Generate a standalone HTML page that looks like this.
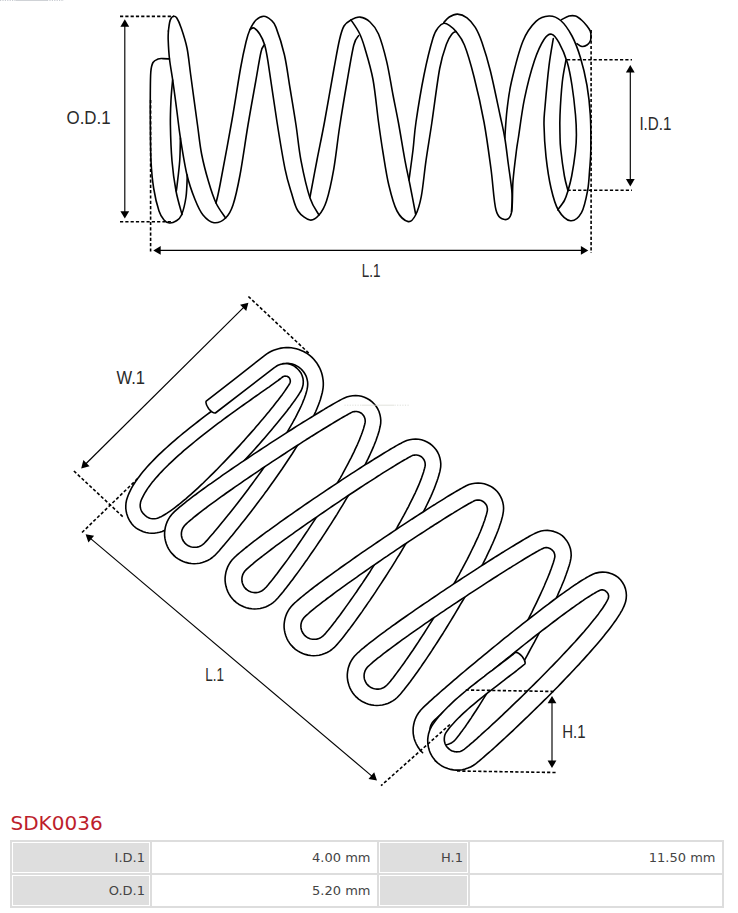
<!DOCTYPE html>
<html lang="en">
<head>
<meta charset="utf-8">
<title>SDK0036</title>
<style>
html,body{margin:0;padding:0;background:#fff;}
body{width:738px;height:913px;position:relative;overflow:hidden;font-family:"DejaVu Sans","Liberation Sans",sans-serif;}
#drawing{position:absolute;left:0;top:0;width:738px;height:800px;display:block;}
#drawing text{font-family:"Liberation Sans","DejaVu Sans",sans-serif;fill:#2a2a2a;}
h1{position:absolute;left:10.5px;top:811px;margin:0;font-size:20px;line-height:24px;font-weight:normal;color:#bd1e2c;white-space:nowrap;}
table{position:absolute;left:10px;top:840px;width:714px;border-collapse:separate;border-spacing:0;border:1px solid #ddd;table-layout:fixed;font-size:13px;color:#444;}
td{height:31px;padding:0;border:1px solid #ddd;text-align:right;vertical-align:middle;box-sizing:border-box;}
td div{height:29px;line-height:29px;margin:1px;padding:0 4px 0 0;}
td.h div{background:#dedede;}
td.v div{padding-right:5.5px;}
</style>
</head>
<body>
<svg id="drawing" width="738" height="800" viewBox="0 0 738 800">
<rect x="0" y="0" width="738" height="800" fill="#fff"/>
<g id="spring-side">
<path d="M169.50 59.00C168.42 58.93 164.92 58.60 163.00 58.60C161.08 58.60 159.67 58.35 158.00 59.00C156.33 59.65 154.20 60.33 153.00 62.50C151.80 64.67 151.25 66.58 150.80 72.00C150.35 77.42 150.38 87.00 150.30 95.00C150.22 103.00 150.18 109.00 150.30 120.00C150.42 131.00 150.43 149.58 151.00 161.00C151.57 172.42 152.37 180.17 153.70 188.50C155.03 196.83 157.28 205.75 159.00 211.00C160.72 216.25 162.25 218.00 164.00 220.00C165.75 222.00 167.50 222.83 169.50 223.00C171.50 223.17 174.00 222.33 176.00 221.00C178.00 219.67 179.83 219.00 181.50 215.00C183.17 211.00 185.03 203.67 186.00 197.00C186.97 190.33 187.08 178.67 187.30 175.00" fill="none" stroke="#000" stroke-width="1.60" stroke-linecap="round" stroke-linejoin="round" />
<path d="M172.60 80.00C172.33 83.33 171.37 92.50 171.00 100.00C170.63 107.50 170.23 114.83 170.40 125.00C170.57 135.17 171.07 150.00 172.00 161.00C172.93 172.00 174.33 182.08 176.00 191.00C177.67 199.92 181.00 210.58 182.00 214.50" fill="none" stroke="#000" stroke-width="1.60" stroke-linecap="round" stroke-linejoin="round" />
<path d="M180.40 138.00C180.28 141.83 180.27 153.00 179.70 161.00C179.13 169.00 177.57 181.00 177.00 186.00C176.43 191.00 176.42 190.17 176.30 191.00" fill="none" stroke="#000" stroke-width="1.60" stroke-linecap="round" stroke-linejoin="round" />
<path d="M168.40 31.00C168.60 29.58 169.12 24.67 169.60 22.50C170.08 20.33 170.60 19.03 171.30 18.00C172.00 16.97 172.88 16.30 173.80 16.30C174.72 16.30 175.60 16.15 176.80 18.00C178.00 19.85 179.30 22.40 181.00 27.40C182.70 32.40 185.38 40.07 187.00 48.00C188.62 55.93 188.95 62.17 190.70 75.00C192.45 87.83 195.68 111.83 197.50 125.00C199.32 138.17 199.77 144.57 201.60 154.00C203.43 163.43 206.10 173.43 208.50 181.60C210.90 189.77 213.15 196.93 216.00 203.00C218.85 209.07 224.00 215.50 225.60 218.00" fill="none" stroke="#000" stroke-width="1.60" stroke-linecap="round" stroke-linejoin="round" />
<path d="M168.40 31.00C168.37 32.50 168.02 35.33 168.20 40.00C168.38 44.67 168.70 52.00 169.50 59.00C170.30 66.00 171.75 73.17 173.00 82.00C174.25 90.83 175.77 102.67 177.00 112.00C178.23 121.33 178.73 127.50 180.40 138.00C182.07 148.50 184.57 164.75 187.00 175.00C189.43 185.25 192.33 192.83 195.00 199.50C197.67 206.17 199.83 211.13 203.00 215.00C206.17 218.87 210.23 222.20 214.00 222.70C217.77 223.20 222.43 220.95 225.60 218.00C228.77 215.05 230.60 212.17 233.00 205.00C235.40 197.83 237.50 188.33 240.00 175.00C242.50 161.67 245.40 140.50 248.00 125.00C250.60 109.50 253.43 94.17 255.60 82.00C257.77 69.83 259.52 58.25 261.00 52.00C262.48 45.75 263.92 45.75 264.50 44.50" fill="none" stroke="#000" stroke-width="1.60" stroke-linecap="round" stroke-linejoin="round" />
<path d="M216.00 203.00C216.67 200.00 217.33 198.83 220.00 185.00C222.67 171.17 228.58 139.42 232.00 120.00C235.42 100.58 238.17 81.50 240.50 68.50C242.83 55.50 244.42 48.50 246.00 42.00C247.58 35.50 248.33 33.17 250.00 29.50C251.67 25.83 253.70 22.22 256.00 20.00C258.30 17.78 261.30 16.20 263.80 16.20C266.30 16.20 268.97 18.13 271.00 20.00C273.03 21.87 273.77 21.60 276.00 27.40C278.23 33.20 282.07 44.70 284.40 54.80C286.73 64.90 288.07 76.30 290.00 88.00C291.93 99.70 294.17 112.90 296.00 125.00C297.83 137.10 298.67 148.43 301.00 160.60C303.33 172.77 307.00 188.93 310.00 198.00C313.00 207.07 317.50 212.17 319.00 215.00" fill="none" stroke="#000" stroke-width="1.60" stroke-linecap="round" stroke-linejoin="round" />
<path d="M250.00 29.50C250.67 29.25 252.38 27.25 254.00 28.00C255.62 28.75 257.95 31.25 259.70 34.00C261.45 36.75 263.12 39.90 264.50 44.50C265.88 49.10 265.92 48.68 268.00 61.60C270.08 74.52 274.17 104.13 277.00 122.00C279.83 139.87 282.58 156.97 285.00 168.80C287.42 180.63 289.33 185.97 291.50 193.00C293.67 200.03 294.92 206.50 298.00 211.00C301.08 215.50 306.50 219.33 310.00 220.00C313.50 220.67 316.25 218.17 319.00 215.00C321.75 211.83 324.03 208.70 326.50 201.00C328.97 193.30 331.62 181.13 333.80 168.80C335.98 156.47 337.40 141.47 339.60 127.00C341.80 112.53 344.63 95.67 347.00 82.00C349.37 68.33 351.87 52.73 353.80 45.00C355.73 37.27 357.80 37.17 358.60 35.60" fill="none" stroke="#000" stroke-width="1.60" stroke-linecap="round" stroke-linejoin="round" />
<path d="M310.00 197.00C311.17 190.83 314.58 172.50 317.00 160.00C319.42 147.50 321.67 137.25 324.50 122.00C327.33 106.75 331.50 82.22 334.00 68.50C336.50 54.78 337.83 46.78 339.50 39.70C341.17 32.62 342.08 29.30 344.00 26.00C345.92 22.70 348.33 21.38 351.00 19.90C353.67 18.42 356.83 16.75 360.00 17.10C363.17 17.45 366.92 19.18 370.00 22.00C373.08 24.82 375.72 27.40 378.50 34.00C381.28 40.60 384.28 51.43 386.70 61.60C389.12 71.77 391.03 84.77 393.00 95.00C394.97 105.23 396.50 112.07 398.50 123.00C400.50 133.93 403.08 150.27 405.00 160.60C406.92 170.93 408.23 176.10 410.00 185.00C411.77 193.90 414.67 209.17 415.60 214.00" fill="none" stroke="#000" stroke-width="1.60" stroke-linecap="round" stroke-linejoin="round" />
<path d="M351.00 19.90C352.38 22.08 357.00 28.32 359.30 33.00C361.60 37.68 362.52 40.25 364.80 48.00C367.08 55.75 370.72 67.17 373.00 79.50C375.28 91.83 376.83 109.83 378.50 122.00C380.17 134.17 381.28 142.00 383.00 152.50C384.72 163.00 386.47 175.25 388.80 185.00C391.13 194.75 393.75 204.90 397.00 211.00C400.25 217.10 405.20 220.93 408.30 221.60C411.40 222.27 413.43 219.20 415.60 215.00C417.77 210.80 419.57 205.47 421.30 196.40C423.03 187.33 424.25 172.83 426.00 160.60C427.75 148.37 429.52 138.35 431.80 123.00C434.08 107.65 437.23 81.70 439.70 68.50C442.17 55.30 444.55 49.55 446.60 43.80C448.65 38.05 450.43 36.05 452.00 34.00C453.57 31.95 455.33 31.92 456.00 31.50" fill="none" stroke="#000" stroke-width="1.60" stroke-linecap="round" stroke-linejoin="round" />
<path d="M409.00 180.00C409.67 175.00 411.83 159.67 413.00 150.00C414.17 140.33 414.17 134.50 416.00 122.00C417.83 109.50 421.17 89.00 424.00 75.00C426.83 61.00 430.60 45.93 433.00 38.00C435.40 30.07 436.60 29.85 438.40 27.40C440.20 24.95 441.98 23.65 443.80 23.30C445.62 22.95 447.27 23.93 449.30 25.30C451.33 26.67 453.48 28.22 456.00 31.50C458.52 34.78 461.40 37.47 464.40 45.00C467.40 52.53 470.73 63.87 474.00 76.70C477.27 89.53 481.17 106.62 484.00 122.00C486.83 137.38 489.00 154.33 491.00 169.00C493.00 183.67 493.73 201.58 496.00 210.00C498.27 218.42 502.02 219.05 504.60 219.50C507.18 219.95 510.10 219.12 511.50 212.70C512.90 206.28 512.17 191.45 513.00 181.00C513.83 170.55 515.58 157.33 516.50 150.00C517.42 142.67 517.17 145.57 518.50 137.00C519.83 128.43 521.85 111.30 524.50 98.60C527.15 85.90 531.15 70.65 534.40 60.80C537.65 50.95 541.13 43.93 544.00 39.50C546.87 35.07 549.10 33.67 551.60 34.20C554.10 34.73 556.38 37.98 559.00 42.70C561.62 47.42 565.13 55.37 567.30 62.50C569.47 69.63 570.63 76.75 572.00 85.50C573.37 94.25 574.77 106.75 575.50 115.00C576.23 123.25 576.42 128.88 576.40 135.00C576.38 141.12 576.18 144.87 575.40 151.70C574.62 158.53 572.93 169.50 571.70 176.00C570.47 182.50 569.22 186.62 568.00 190.70C566.78 194.78 566.10 197.32 564.40 200.50C562.70 203.68 558.90 208.25 557.80 209.80" fill="none" stroke="#000" stroke-width="1.60" stroke-linecap="round" stroke-linejoin="round" />
<path d="M443.80 22.50C444.72 21.58 447.02 18.40 449.30 17.00C451.58 15.60 454.55 13.97 457.50 14.10C460.45 14.23 464.03 15.58 467.00 17.80C469.97 20.02 472.80 23.28 475.30 27.40C477.80 31.52 479.48 35.23 482.00 42.50C484.52 49.77 487.40 58.92 490.40 71.00C493.40 83.08 497.60 103.83 500.00 115.00C502.40 126.17 503.42 129.83 504.80 138.00C506.18 146.17 507.10 154.83 508.30 164.00C509.50 173.17 511.47 185.08 512.00 193.00C512.53 200.92 511.58 208.42 511.50 211.50" fill="none" stroke="#000" stroke-width="1.60" stroke-linecap="round" stroke-linejoin="round" />
<path d="M504.80 138.00C505.17 133.33 505.90 119.33 507.00 110.00C508.10 100.67 508.73 93.50 511.40 82.00C514.07 70.50 518.90 51.10 523.00 41.00C527.10 30.90 531.67 25.57 536.00 21.40C540.33 17.23 544.88 16.15 549.00 16.00C553.12 15.85 556.87 17.17 560.70 20.50C564.53 23.83 568.72 29.83 572.00 36.00C575.28 42.17 577.90 49.25 580.40 57.50C582.90 65.75 585.35 75.92 587.00 85.50C588.65 95.08 589.67 104.25 590.30 115.00C590.93 125.75 590.92 140.83 590.80 150.00C590.68 159.17 590.13 163.22 589.60 170.00C589.07 176.78 588.95 183.58 587.60 190.70C586.25 197.82 584.35 207.70 581.50 212.70C578.65 217.70 574.37 221.15 570.50 220.70C566.63 220.25 561.55 215.45 558.30 210.00C555.05 204.55 553.05 196.90 551.00 188.00C548.95 179.10 547.17 167.10 546.00 156.60C544.83 146.10 544.17 133.27 544.00 125.00C543.83 116.73 544.17 116.87 545.00 107.00C545.83 97.13 547.62 77.20 549.00 65.80C550.38 54.40 552.58 43.13 553.30 38.60" fill="none" stroke="#000" stroke-width="1.60" stroke-linecap="round" stroke-linejoin="round" />
<path d="M566.00 60.00C565.38 63.67 563.30 72.83 562.30 82.00C561.30 91.17 560.38 106.17 560.00 115.00C559.62 123.83 559.88 129.33 560.00 135.00C560.12 140.67 559.97 142.17 560.70 149.00C561.43 155.83 563.18 169.05 564.40 176.00C565.62 182.95 567.40 188.25 568.00 190.70" fill="none" stroke="#000" stroke-width="1.60" stroke-linecap="round" stroke-linejoin="round" />
<path d="M561.50 19.70C562.75 19.10 566.67 16.70 569.00 16.10C571.33 15.50 573.33 15.37 575.50 16.10C577.67 16.83 580.08 18.85 582.00 20.50C583.92 22.15 585.62 24.22 587.00 26.00C588.38 27.78 589.63 29.53 590.30 31.20C590.97 32.87 591.00 34.37 591.00 36.00C591.00 37.63 590.97 39.50 590.30 41.00C589.63 42.50 588.38 44.08 587.00 45.00C585.62 45.92 583.67 46.73 582.00 46.50C580.33 46.27 577.83 44.08 577.00 43.60" fill="none" stroke="#000" stroke-width="1.60" stroke-linecap="round" stroke-linejoin="round" />
<line x1="120.00" y1="16.40" x2="174.00" y2="16.40" stroke="#000" stroke-width="1.60" stroke-dasharray="3.2 2.1"/>
<line x1="120.00" y1="221.70" x2="171.00" y2="221.70" stroke="#000" stroke-width="1.60" stroke-dasharray="3.2 2.1"/>
<line x1="150.60" y1="100.00" x2="150.60" y2="253.00" stroke="#000" stroke-width="1.60" stroke-dasharray="3.2 2.1"/>
<line x1="591.10" y1="30.00" x2="591.10" y2="253.00" stroke="#000" stroke-width="1.60" stroke-dasharray="3.2 2.1"/>
<line x1="567.00" y1="59.80" x2="632.00" y2="59.80" stroke="#000" stroke-width="1.60" stroke-dasharray="3.2 2.1"/>
<line x1="567.50" y1="190.20" x2="632.00" y2="190.20" stroke="#000" stroke-width="1.60" stroke-dasharray="3.2 2.1"/>
<polygon points="124.80,19.30 120.40,26.70 129.20,26.70" fill="#000"/>
<polygon points="124.80,218.60 120.40,211.20 129.20,211.20" fill="#000"/>
<line x1="124.80" y1="25.22" x2="124.80" y2="212.68" stroke="#000" stroke-width="1.15"/>
<polygon points="153.30,250.40 160.70,254.80 160.70,246.00" fill="#000"/>
<polygon points="588.30,250.40 580.90,254.80 580.90,246.00" fill="#000"/>
<line x1="159.22" y1="250.40" x2="582.38" y2="250.40" stroke="#000" stroke-width="1.15"/>
<polygon points="630.30,65.00 625.90,72.40 634.70,72.40" fill="#000"/>
<polygon points="630.30,186.50 625.90,179.10 634.70,179.10" fill="#000"/>
<line x1="630.30" y1="70.92" x2="630.30" y2="180.58" stroke="#000" stroke-width="1.15"/>
<text x="66.50" y="124.00" font-size="18.00" textLength="44.1" lengthAdjust="spacingAndGlyphs">O.D.1</text>
<text x="639.40" y="130.00" font-size="18.00" textLength="32.0" lengthAdjust="spacingAndGlyphs">I.D.1</text>
<text x="361.70" y="276.70" font-size="18.00" textLength="18.7" lengthAdjust="spacingAndGlyphs">L.1</text>
</g>
<g id="spring-iso">
<path d="M162.2 531.4L159.6 532.2L156.9 532.8L154.2 533.2L151.4 533.2L148.7 533.0L145.9 532.5L143.3 531.7L140.7 530.6L138.2 529.3L135.9 527.8L133.7 526.0L131.9 523.9L130.2 521.6L128.8 519.2L127.7 516.6L126.8 514.0L126.2 511.3L125.8 508.5L125.8 505.7L126.0 503.0L126.5 500.3L127.3 497.7L128.2 495.3L129.2 492.9L130.3 490.6L131.5 488.2L132.8 485.8L134.3 483.5L135.9 481.1L137.5 478.7L139.3 476.4L141.1 474.0L143.1 471.6L145.1 469.2L147.2 466.8L149.4 464.4L151.7 462.0L154.0 459.6L156.4 457.1L158.9 454.7L161.4 452.3L164.0 449.9L166.7 447.5L169.3 445.1L172.1 442.7L174.8 440.3L177.6 437.9L180.5 435.5L183.3 433.1L186.2 430.8L189.2 428.4L192.1 426.1L195.0 423.8L198.0 421.5L201.0 419.2L203.9 416.9L206.9 414.7L209.8 412.5L212.8 410.3L215.7 408.1L218.6 406.0L221.5 403.9L224.4 401.8L227.2 399.8L230.0 397.8L232.8 395.8L235.5 393.9L238.1 392.0L240.8 390.1L243.3 388.3L245.8 386.6L248.3 384.9L250.7 383.2L253.0 381.6L255.2 380.0L257.4 378.5L259.4 377.1L261.4 375.7L263.3 374.4L265.1 373.1L266.8 371.9L268.4 370.7L269.9 369.7L271.2 368.7L272.5 367.7L273.6 366.9L276.3 365.2L279.2 364.0L282.3 363.4L285.5 363.3L288.6 363.7L291.5 364.7L294.3 366.1L296.7 368.0L298.9 370.2L300.8 372.7L302.1 375.5L303.0 378.5L303.3 381.6L303.1 384.8L302.3 387.9L301.1 390.8L300.2 392.2L299.3 393.7L298.3 395.3L297.2 396.9L296.0 398.6L294.7 400.5L293.3 402.4L291.9 404.3L290.4 406.4L288.7 408.5L287.1 410.7L285.3 412.9L283.5 415.2L281.6 417.6L279.6 420.0L277.6 422.5L275.5 425.0L273.4 427.6L271.2 430.2L269.0 432.8L266.7 435.5L264.4 438.2L262.0 440.9L259.6 443.7L257.2 446.4L254.7 449.2L252.2 452.0L249.6 454.8L247.1 457.6L244.5 460.4L241.9 463.3L239.2 466.1L236.6 468.9L234.0 471.6L231.3 474.4L228.6 477.1L226.0 479.9L223.3 482.6L220.7 485.2L218.0 487.8L215.4 490.4L212.7 493.0L210.1 495.5L207.5 497.9L204.9 500.3L202.4 502.7L199.8 504.9L197.3 507.2L194.8 509.3L192.4 511.4L190.0 513.4L187.6 515.3L185.3 517.2L183.0 518.9L180.7 520.6L178.5 522.2L176.3 523.7L174.2 525.1L172.1 526.4L170.1 527.6L168.1 528.7L166.1 529.7L164.2 530.6L162.2 531.4ZM157.4 518.2L156.2 518.5L154.9 518.7L153.6 518.8L152.3 518.7L151.0 518.5L149.8 518.2L148.6 517.7L147.4 517.1L146.4 516.5L145.4 515.7L144.5 514.8L143.6 513.9L142.8 513.0L142.1 512.0L141.4 510.8L141.0 509.7L140.6 508.4L140.3 507.2L140.2 505.9L140.2 504.6L140.4 503.3L140.6 502.0L141.2 500.3L141.9 498.6L142.8 496.8L143.8 494.9L144.9 492.9L146.1 491.0L147.4 488.9L148.8 486.9L150.4 484.8L152.0 482.6L153.8 480.5L155.6 478.3L157.6 476.1L159.6 473.8L161.7 471.6L163.9 469.3L166.2 467.0L168.5 464.7L171.0 462.4L173.4 460.1L176.0 457.7L178.5 455.4L181.2 453.1L183.8 450.7L186.6 448.4L189.3 446.1L192.1 443.8L194.9 441.5L197.8 439.2L200.6 436.9L203.5 434.6L206.4 432.3L209.3 430.1L212.2 427.8L215.1 425.6L218.0 423.4L220.9 421.3L223.8 419.1L226.7 417.0L229.6 414.9L232.4 412.9L235.2 410.9L237.9 408.9L240.7 406.9L243.4 405.0L246.0 403.1L248.6 401.3L251.2 399.5L253.7 397.7L256.1 396.0L258.5 394.4L260.8 392.7L263.0 391.2L265.2 389.7L267.3 388.2L269.3 386.8L271.2 385.4L273.0 384.1L274.7 382.9L276.4 381.7L277.9 380.6L279.3 379.5L280.7 378.5L281.9 377.5L282.6 377.0L283.4 376.5L284.2 376.3L285.1 376.1L286.1 376.2L287.0 376.3L287.9 376.7L288.7 377.2L289.4 378.0L289.8 378.8L290.1 379.7L290.3 380.6L290.3 381.5L290.1 382.4L289.8 383.3L289.4 384.0L288.7 385.2L287.9 386.4L287.0 387.8L286.0 389.3L284.9 390.9L283.7 392.6L282.4 394.4L281.0 396.2L279.5 398.2L278.0 400.2L276.3 402.3L274.6 404.5L272.9 406.7L271.0 409.0L269.1 411.4L267.1 413.8L265.1 416.3L263.0 418.8L260.8 421.3L258.6 423.9L256.3 426.6L254.1 429.2L251.7 431.9L249.3 434.6L246.9 437.3L244.5 440.1L242.0 442.8L239.5 445.6L236.9 448.4L234.4 451.1L231.8 453.9L229.2 456.6L226.6 459.4L224.0 462.1L221.4 464.8L218.8 467.5L216.2 470.2L213.5 472.8L210.9 475.4L208.3 478.0L205.7 480.5L203.2 483.0L200.6 485.4L198.1 487.8L195.6 490.1L193.1 492.4L190.6 494.6L188.2 496.7L185.8 498.8L183.5 500.7L181.2 502.6L178.9 504.5L176.7 506.2L174.6 507.8L172.5 509.4L170.5 510.8L168.5 512.2L166.7 513.4L164.9 514.5L163.2 515.5L161.6 516.4L160.1 517.1L158.7 517.7L157.4 518.2Z" fill="#fff" fill-rule="evenodd" stroke="#000" stroke-width="1.60" stroke-linejoin="round"/>
<path d="M206.2 401.2L235.5 378.3L264.8 355.4L266.8 353.9L269.0 352.5L271.3 351.3L273.6 350.2L276.0 349.4L278.5 348.7L281.0 348.1L283.6 347.8L286.1 347.6L288.7 347.6L291.3 347.8L293.8 348.2L296.3 348.8L298.8 349.5L301.2 350.4L303.6 351.5L305.8 352.7L308.0 354.2L310.0 355.7L312.0 357.4L313.8 359.3L315.4 361.3L317.0 363.3L318.3 365.5L319.6 367.8L320.6 370.1L321.5 372.5L322.2 375.0L322.7 377.5L323.1 380.1L323.3 382.6L323.3 385.2L323.1 387.8L322.7 390.3L322.3 392.5L321.7 394.8L321.1 397.1L320.4 399.4L319.6 401.8L318.7 404.2L317.7 406.7L316.7 409.2L315.6 411.8L314.4 414.4L313.2 417.0L311.9 419.7L310.5 422.4L309.0 425.2L307.5 428.0L306.0 430.8L304.4 433.7L302.7 436.5L301.0 439.4L299.3 442.4L297.5 445.3L295.6 448.3L293.8 451.2L291.9 454.2L289.9 457.2L287.9 460.2L285.9 463.3L283.9 466.3L281.9 469.3L279.8 472.3L277.7 475.3L275.6 478.3L273.5 481.3L271.3 484.3L269.2 487.3L267.1 490.2L264.9 493.1L262.8 496.1L260.6 498.9L258.5 501.8L256.4 504.6L254.2 507.4L252.1 510.2L250.0 512.9L248.0 515.5L245.9 518.2L243.9 520.8L241.8 523.3L239.9 525.8L237.9 528.2L236.0 530.6L234.1 532.9L232.3 535.2L230.5 537.3L228.7 539.5L227.0 541.5L225.3 543.5L223.7 545.4L222.1 547.2L220.6 549.0L219.2 550.7L217.8 552.2L216.4 553.7L214.5 555.7L212.3 557.5L210.1 559.1L207.6 560.5L205.1 561.6L202.4 562.5L199.7 563.2L196.9 563.5L194.1 563.7L191.3 563.5L188.6 563.1L185.8 562.4L183.2 561.5L180.6 560.3L178.2 558.9L175.9 557.3L173.8 555.4L185.3 543.5L186.3 544.3L187.3 545.1L188.3 545.7L189.5 546.3L190.6 546.7L191.8 547.0L193.1 547.2L194.3 547.3L195.6 547.3L196.8 547.2L198.1 546.9L199.3 546.5L200.5 546.0L201.6 545.4L202.6 544.7L203.6 543.9L204.5 543.0L205.8 541.6L207.2 540.1L208.6 538.5L210.0 536.8L211.6 535.0L213.2 533.2L214.8 531.2L216.5 529.2L218.2 527.2L220.0 525.0L221.8 522.8L223.7 520.6L225.5 518.2L227.5 515.8L229.4 513.4L231.4 510.9L233.4 508.4L235.5 505.8L237.5 503.2L239.6 500.5L241.7 497.8L243.8 495.0L245.9 492.3L248.0 489.5L250.1 486.6L252.2 483.8L254.3 480.9L256.4 478.0L258.5 475.1L260.6 472.2L262.7 469.2L264.8 466.3L266.8 463.3L268.9 460.4L270.9 457.5L272.9 454.5L274.8 451.6L276.8 448.6L278.7 445.7L280.5 442.8L282.4 439.9L284.1 437.1L285.9 434.2L287.6 431.4L289.2 428.6L290.8 425.9L292.4 423.2L293.8 420.5L295.3 417.9L296.6 415.3L297.9 412.7L299.1 410.3L300.3 407.8L301.4 405.5L302.4 403.2L303.3 400.9L304.2 398.7L304.9 396.7L305.6 394.7L306.2 392.7L306.7 390.9L307.1 389.2L307.4 387.6L307.6 386.1L307.7 384.7L307.7 383.2L307.6 381.8L307.3 380.3L307.0 378.9L306.6 377.5L306.1 376.1L305.5 374.8L304.7 373.5L303.9 372.3L303.1 371.2L302.1 370.1L301.1 369.0L300.0 368.1L298.8 367.2L297.6 366.4L296.3 365.7L295.0 365.1L293.7 364.6L292.3 364.1L290.9 363.8L289.4 363.6L288.0 363.4L286.5 363.4L285.1 363.5L283.6 363.6L282.2 363.9L280.8 364.3L279.4 364.8L278.0 365.3L276.7 366.0L275.5 366.8L274.3 367.6L244.8 390.3L215.4 413.0Z" fill="#fff" stroke="none"/>
<path d="M173.8 555.4L175.9 557.3L178.2 558.9L180.6 560.3L183.2 561.5L185.8 562.4L188.6 563.1L191.3 563.5L194.1 563.7L196.9 563.5L199.7 563.2L202.4 562.5L205.1 561.6L207.6 560.5L210.1 559.1L212.3 557.5L214.5 555.7L216.4 553.7L217.8 552.2L219.2 550.7L220.6 549.0L222.1 547.2L223.7 545.4L225.3 543.5L227.0 541.5L228.7 539.5L230.5 537.3L232.3 535.2L234.1 532.9L236.0 530.6L237.9 528.2L239.9 525.8L241.8 523.3L243.9 520.8L245.9 518.2L248.0 515.5L250.0 512.9L252.1 510.2L254.2 507.4L256.4 504.6L258.5 501.8L260.6 498.9L262.8 496.1L264.9 493.1L267.1 490.2L269.2 487.3L271.3 484.3L273.5 481.3L275.6 478.3L277.7 475.3L279.8 472.3L281.9 469.3L283.9 466.3L285.9 463.3L287.9 460.2L289.9 457.2L291.9 454.2L293.8 451.2L295.6 448.3L297.5 445.3L299.3 442.4L301.0 439.4L302.7 436.5L304.4 433.7L306.0 430.8L307.5 428.0L309.0 425.2L310.5 422.4L311.9 419.7L313.2 417.0L314.4 414.4L315.6 411.8L316.7 409.2L317.7 406.7L318.7 404.2L319.6 401.8L320.4 399.4L321.1 397.1L321.7 394.8L322.3 392.5L322.7 390.3L323.1 387.8L323.3 385.2L323.3 382.6L323.1 380.1L322.7 377.5L322.2 375.0L321.5 372.5L320.6 370.1L319.6 367.8L318.3 365.5L317.0 363.3L315.4 361.3L313.8 359.3L312.0 357.4L310.0 355.7L308.0 354.2L305.8 352.7L303.6 351.5L301.2 350.4L298.8 349.5L296.3 348.8L293.8 348.2L291.3 347.8L288.7 347.6L286.1 347.6L283.6 347.8L281.0 348.1L278.5 348.7L276.0 349.4L273.6 350.2L271.3 351.3L269.0 352.5L266.8 353.9L264.8 355.4L235.5 378.3L206.2 401.2Q205.1 403.6 208.7 408.7Q212.8 413.5 215.4 413.0L244.8 390.3L274.3 367.6L275.5 366.8L276.7 366.0L278.0 365.3L279.4 364.8L280.8 364.3L282.2 363.9L283.6 363.6L285.1 363.5L286.5 363.4L288.0 363.4L289.4 363.6L290.9 363.8L292.3 364.1L293.7 364.6L295.0 365.1L296.3 365.7L297.6 366.4L298.8 367.2L300.0 368.1L301.1 369.0L302.1 370.1L303.1 371.2L303.9 372.3L304.7 373.5L305.5 374.8L306.1 376.1L306.6 377.5L307.0 378.9L307.3 380.3L307.6 381.8L307.7 383.2L307.7 384.7L307.6 386.1L307.4 387.6L307.1 389.2L306.7 390.9L306.2 392.7L305.6 394.7L304.9 396.7L304.2 398.7L303.3 400.9L302.4 403.2L301.4 405.5L300.3 407.8L299.1 410.3L297.9 412.7L296.6 415.3L295.3 417.9L293.8 420.5L292.4 423.2L290.8 425.9L289.2 428.6L287.6 431.4L285.9 434.2L284.1 437.1L282.4 439.9L280.5 442.8L278.7 445.7L276.8 448.6L274.8 451.6L272.9 454.5L270.9 457.5L268.9 460.4L266.8 463.3L264.8 466.3L262.7 469.2L260.6 472.2L258.5 475.1L256.4 478.0L254.3 480.9L252.2 483.8L250.1 486.6L248.0 489.5L245.9 492.3L243.8 495.0L241.7 497.8L239.6 500.5L237.5 503.2L235.5 505.8L233.4 508.4L231.4 510.9L229.4 513.4L227.5 515.8L225.5 518.2L223.7 520.6L221.8 522.8L220.0 525.0L218.2 527.2L216.5 529.2L214.8 531.2L213.2 533.2L211.6 535.0L210.0 536.8L208.6 538.5L207.2 540.1L205.8 541.6L204.5 543.0L203.6 543.9L202.6 544.7L201.6 545.4L200.5 546.0L199.3 546.5L198.1 546.9L196.8 547.2L195.6 547.3L194.3 547.3L193.1 547.2L191.8 547.0L190.6 546.7L189.5 546.3L188.3 545.7L187.3 545.1L186.3 544.3L185.3 543.5Z" fill="#fff" stroke="none"/>
<path d="M173.8 555.4L175.9 557.3L178.2 558.9L180.6 560.3L183.2 561.5L185.8 562.4L188.6 563.1L191.3 563.5L194.1 563.7L196.9 563.5L199.7 563.2L202.4 562.5L205.1 561.6L207.6 560.5L210.1 559.1L212.3 557.5L214.5 555.7L216.4 553.7L217.8 552.2L219.2 550.7L220.6 549.0L222.1 547.2L223.7 545.4L225.3 543.5L227.0 541.5L228.7 539.5L230.5 537.3L232.3 535.2L234.1 532.9L236.0 530.6L237.9 528.2L239.9 525.8L241.8 523.3L243.9 520.8L245.9 518.2L248.0 515.5L250.0 512.9L252.1 510.2L254.2 507.4L256.4 504.6L258.5 501.8L260.6 498.9L262.8 496.1L264.9 493.1L267.1 490.2L269.2 487.3L271.3 484.3L273.5 481.3L275.6 478.3L277.7 475.3L279.8 472.3L281.9 469.3L283.9 466.3L285.9 463.3L287.9 460.2L289.9 457.2L291.9 454.2L293.8 451.2L295.6 448.3L297.5 445.3L299.3 442.4L301.0 439.4L302.7 436.5L304.4 433.7L306.0 430.8L307.5 428.0L309.0 425.2L310.5 422.4L311.9 419.7L313.2 417.0L314.4 414.4L315.6 411.8L316.7 409.2L317.7 406.7L318.7 404.2L319.6 401.8L320.4 399.4L321.1 397.1L321.7 394.8L322.3 392.5L322.7 390.3L323.1 387.8L323.3 385.2L323.3 382.6L323.1 380.1L322.7 377.5L322.2 375.0L321.5 372.5L320.6 370.1L319.6 367.8L318.3 365.5L317.0 363.3L315.4 361.3L313.8 359.3L312.0 357.4L310.0 355.7L308.0 354.2L305.8 352.7L303.6 351.5L301.2 350.4L298.8 349.5L296.3 348.8L293.8 348.2L291.3 347.8L288.7 347.6L286.1 347.6L283.6 347.8L281.0 348.1L278.5 348.7L276.0 349.4L273.6 350.2L271.3 351.3L269.0 352.5L266.8 353.9L264.8 355.4L235.5 378.3L206.2 401.2Q205.1 403.6 208.7 408.7Q212.8 413.5 215.4 413.0L244.8 390.3L274.3 367.6L275.5 366.8L276.7 366.0L278.0 365.3L279.4 364.8L280.8 364.3L282.2 363.9L283.6 363.6L285.1 363.5L286.5 363.4L288.0 363.4L289.4 363.6L290.9 363.8L292.3 364.1L293.7 364.6L295.0 365.1L296.3 365.7L297.6 366.4L298.8 367.2L300.0 368.1L301.1 369.0L302.1 370.1L303.1 371.2L303.9 372.3L304.7 373.5L305.5 374.8L306.1 376.1L306.6 377.5L307.0 378.9L307.3 380.3L307.6 381.8L307.7 383.2L307.7 384.7L307.6 386.1L307.4 387.6L307.1 389.2L306.7 390.9L306.2 392.7L305.6 394.7L304.9 396.7L304.2 398.7L303.3 400.9L302.4 403.2L301.4 405.5L300.3 407.8L299.1 410.3L297.9 412.7L296.6 415.3L295.3 417.9L293.8 420.5L292.4 423.2L290.8 425.9L289.2 428.6L287.6 431.4L285.9 434.2L284.1 437.1L282.4 439.9L280.5 442.8L278.7 445.7L276.8 448.6L274.8 451.6L272.9 454.5L270.9 457.5L268.9 460.4L266.8 463.3L264.8 466.3L262.7 469.2L260.6 472.2L258.5 475.1L256.4 478.0L254.3 480.9L252.2 483.8L250.1 486.6L248.0 489.5L245.9 492.3L243.8 495.0L241.7 497.8L239.6 500.5L237.5 503.2L235.5 505.8L233.4 508.4L231.4 510.9L229.4 513.4L227.5 515.8L225.5 518.2L223.7 520.6L221.8 522.8L220.0 525.0L218.2 527.2L216.5 529.2L214.8 531.2L213.2 533.2L211.6 535.0L210.0 536.8L208.6 538.5L207.2 540.1L205.8 541.6L204.5 543.0L203.6 543.9L202.6 544.7L201.6 545.4L200.5 546.0L199.3 546.5L198.1 546.9L196.8 547.2L195.6 547.3L194.3 547.3L193.1 547.2L191.8 547.0L190.6 546.7L189.5 546.3L188.3 545.7L187.3 545.1L186.3 544.3L185.3 543.5" fill="none" stroke="#000" stroke-width="1.60" stroke-linejoin="round" stroke-linecap="round"/>
<path d="M173.8 555.4L171.9 553.4L170.1 551.2L168.6 548.8L167.3 546.3L166.3 543.7L165.5 541.0L164.9 538.2L164.6 535.4L164.6 532.6L164.9 529.8L165.4 527.0L166.2 524.3L167.2 521.6L168.5 519.1L170.0 516.7L171.7 514.5L173.7 512.4L175.0 511.2L176.4 509.9L177.9 508.6L179.5 507.2L181.2 505.8L183.0 504.3L184.9 502.8L186.9 501.2L189.0 499.6L191.2 497.9L193.4 496.2L195.8 494.5L198.2 492.7L200.6 490.9L203.2 489.0L205.8 487.1L208.4 485.2L211.2 483.3L214.0 481.3L216.8 479.3L219.7 477.3L222.6 475.2L225.6 473.2L228.6 471.1L231.6 469.0L234.7 466.9L237.8 464.8L240.9 462.7L244.1 460.6L247.2 458.5L250.4 456.3L253.6 454.2L256.8 452.1L260.0 450.0L263.2 447.9L266.4 445.8L269.6 443.7L272.7 441.7L275.9 439.6L279.0 437.6L282.1 435.6L285.2 433.6L288.3 431.6L291.3 429.7L294.3 427.8L297.2 425.9L300.1 424.1L303.0 422.3L305.8 420.6L308.6 418.9L311.3 417.2L313.9 415.6L316.5 414.0L319.0 412.5L321.4 411.0L323.8 409.6L326.0 408.2L328.2 406.9L330.3 405.7L332.4 404.5L334.3 403.4L336.1 402.4L337.9 401.4L339.5 400.5L341.1 399.6L342.5 398.9L343.9 398.2L346.7 397.0L349.6 396.2L352.6 395.7L355.6 395.5L358.6 395.7L361.5 396.3L364.4 397.2L367.1 398.5L369.7 400.0L372.1 401.9L374.2 404.0L376.1 406.3L377.7 408.8L379.0 411.5L379.9 414.4L380.5 417.3L380.8 420.3L380.7 423.3L380.2 426.3L379.7 428.4L379.2 430.7L378.5 433.0L377.8 435.3L376.9 437.7L376.1 440.2L375.1 442.7L374.1 445.3L373.0 447.9L371.8 450.6L370.6 453.3L369.3 456.1L368.0 458.9L366.6 461.7L365.2 464.6L363.7 467.6L362.2 470.6L360.6 473.6L359.0 476.6L357.3 479.6L355.6 482.7L353.9 485.8L352.1 489.0L350.3 492.1L348.5 495.3L346.6 498.4L344.7 501.6L342.8 504.8L340.9 507.9L338.9 511.1L337.0 514.3L335.0 517.5L333.0 520.6L331.0 523.8L329.0 526.9L327.0 530.0L325.0 533.1L323.0 536.1L321.0 539.2L318.9 542.2L317.0 545.1L315.0 548.1L313.0 551.0L311.0 553.8L309.1 556.6L307.2 559.4L305.2 562.1L303.4 564.8L301.5 567.4L299.7 569.9L297.9 572.4L296.1 574.8L294.4 577.1L292.7 579.4L291.0 581.6L289.4 583.7L287.8 585.8L286.3 587.7L284.8 589.6L283.4 591.4L282.0 593.1L280.6 594.7L279.3 596.3L278.1 597.7L276.9 599.0L275.0 601.0L272.8 602.8L270.6 604.4L268.1 605.8L265.6 606.9L262.9 607.8L260.2 608.5L257.4 608.8L254.6 609.0L251.8 608.8L249.1 608.4L246.3 607.7L243.7 606.8L241.1 605.6L238.7 604.2L236.4 602.6L234.3 600.7L245.8 588.8L246.8 589.6L247.8 590.4L248.8 591.0L250.0 591.6L251.1 592.0L252.3 592.3L253.6 592.5L254.8 592.6L256.1 592.6L257.3 592.5L258.6 592.2L259.8 591.8L261.0 591.3L262.1 590.7L263.1 590.0L264.1 589.2L265.0 588.3L266.1 587.2L267.2 585.9L268.4 584.5L269.6 583.0L270.9 581.4L272.3 579.7L273.7 577.9L275.2 576.0L276.8 574.0L278.3 572.0L279.9 569.8L281.6 567.6L283.3 565.3L285.0 563.0L286.8 560.6L288.6 558.1L290.4 555.5L292.3 552.9L294.2 550.3L296.1 547.6L298.0 544.8L299.9 542.0L301.9 539.1L303.8 536.3L305.8 533.3L307.8 530.4L309.7 527.4L311.7 524.4L313.7 521.4L315.7 518.3L317.7 515.2L319.6 512.1L321.6 509.0L323.6 505.9L325.5 502.8L327.4 499.7L329.3 496.6L331.2 493.5L333.0 490.4L334.9 487.3L336.7 484.2L338.4 481.1L340.2 478.1L341.9 475.1L343.5 472.1L345.1 469.1L346.7 466.2L348.2 463.3L349.7 460.4L351.2 457.6L352.5 454.8L353.9 452.1L355.1 449.4L356.3 446.8L357.5 444.3L358.6 441.8L359.6 439.4L360.5 437.0L361.4 434.7L362.2 432.5L362.9 430.4L363.6 428.4L364.1 426.5L364.6 424.7L365.0 423.0L365.2 421.9L365.2 420.7L365.1 419.6L364.9 418.5L364.5 417.4L364.0 416.3L363.4 415.4L362.7 414.5L361.9 413.7L360.9 413.0L359.9 412.4L358.9 412.0L357.8 411.7L356.7 411.5L355.5 411.5L354.4 411.6L353.3 411.8L352.2 412.1L351.2 412.6L350.1 413.2L348.8 413.9L347.4 414.7L345.8 415.6L344.2 416.5L342.4 417.5L340.5 418.6L338.6 419.8L336.5 421.0L334.4 422.3L332.2 423.6L329.9 425.0L327.5 426.5L325.0 428.0L322.5 429.5L319.9 431.1L317.2 432.8L314.5 434.5L311.7 436.2L308.9 438.0L306.0 439.8L303.1 441.7L300.2 443.6L297.2 445.5L294.1 447.5L291.1 449.4L288.0 451.4L284.9 453.5L281.8 455.5L278.6 457.6L275.5 459.6L272.3 461.7L269.1 463.8L266.0 465.9L262.8 468.0L259.7 470.2L256.5 472.3L253.4 474.4L250.3 476.5L247.2 478.6L244.1 480.7L241.1 482.8L238.1 484.9L235.1 486.9L232.2 489.0L229.3 491.0L226.4 493.0L223.7 495.0L220.9 496.9L218.2 498.9L215.6 500.8L213.1 502.6L210.6 504.4L208.2 506.2L205.9 508.0L203.6 509.7L201.4 511.3L199.4 512.9L197.4 514.5L195.5 516.0L193.7 517.4L192.1 518.8L190.5 520.1L189.0 521.4L187.7 522.5L186.5 523.6L185.5 524.6L184.6 525.5L183.9 526.5L183.2 527.5L182.6 528.6L182.1 529.8L181.8 530.9L181.5 532.2L181.4 533.4L181.4 534.6L181.5 535.9L181.7 537.1L182.1 538.3L182.5 539.4L183.1 540.5L183.7 541.6L184.5 542.6L185.3 543.5Z" fill="#fff" stroke="none"/>
<path d="M173.8 555.4L171.9 553.4L170.1 551.2L168.6 548.8L167.3 546.3L166.3 543.7L165.5 541.0L164.9 538.2L164.6 535.4L164.6 532.6L164.9 529.8L165.4 527.0L166.2 524.3L167.2 521.6L168.5 519.1L170.0 516.7L171.7 514.5L173.7 512.4L175.0 511.2L176.4 509.9L177.9 508.6L179.5 507.2L181.2 505.8L183.0 504.3L184.9 502.8L186.9 501.2L189.0 499.6L191.2 497.9L193.4 496.2L195.8 494.5L198.2 492.7L200.6 490.9L203.2 489.0L205.8 487.1L208.4 485.2L211.2 483.3L214.0 481.3L216.8 479.3L219.7 477.3L222.6 475.2L225.6 473.2L228.6 471.1L231.6 469.0L234.7 466.9L237.8 464.8L240.9 462.7L244.1 460.6L247.2 458.5L250.4 456.3L253.6 454.2L256.8 452.1L260.0 450.0L263.2 447.9L266.4 445.8L269.6 443.7L272.7 441.7L275.9 439.6L279.0 437.6L282.1 435.6L285.2 433.6L288.3 431.6L291.3 429.7L294.3 427.8L297.2 425.9L300.1 424.1L303.0 422.3L305.8 420.6L308.6 418.9L311.3 417.2L313.9 415.6L316.5 414.0L319.0 412.5L321.4 411.0L323.8 409.6L326.0 408.2L328.2 406.9L330.3 405.7L332.4 404.5L334.3 403.4L336.1 402.4L337.9 401.4L339.5 400.5L341.1 399.6L342.5 398.9L343.9 398.2L346.7 397.0L349.6 396.2L352.6 395.7L355.6 395.5L358.6 395.7L361.5 396.3L364.4 397.2L367.1 398.5L369.7 400.0L372.1 401.9L374.2 404.0L376.1 406.3L377.7 408.8L379.0 411.5L379.9 414.4L380.5 417.3L380.8 420.3L380.7 423.3L380.2 426.3L379.7 428.4L379.2 430.7L378.5 433.0L377.8 435.3L376.9 437.7L376.1 440.2L375.1 442.7L374.1 445.3L373.0 447.9L371.8 450.6L370.6 453.3L369.3 456.1L368.0 458.9L366.6 461.7L365.2 464.6L363.7 467.6L362.2 470.6L360.6 473.6L359.0 476.6L357.3 479.6L355.6 482.7L353.9 485.8L352.1 489.0L350.3 492.1L348.5 495.3L346.6 498.4L344.7 501.6L342.8 504.8L340.9 507.9L338.9 511.1L337.0 514.3L335.0 517.5L333.0 520.6L331.0 523.8L329.0 526.9L327.0 530.0L325.0 533.1L323.0 536.1L321.0 539.2L318.9 542.2L317.0 545.1L315.0 548.1L313.0 551.0L311.0 553.8L309.1 556.6L307.2 559.4L305.2 562.1L303.4 564.8L301.5 567.4L299.7 569.9L297.9 572.4L296.1 574.8L294.4 577.1L292.7 579.4L291.0 581.6L289.4 583.7L287.8 585.8L286.3 587.7L284.8 589.6L283.4 591.4L282.0 593.1L280.6 594.7L279.3 596.3L278.1 597.7L276.9 599.0L275.0 601.0L272.8 602.8L270.6 604.4L268.1 605.8L265.6 606.9L262.9 607.8L260.2 608.5L257.4 608.8L254.6 609.0L251.8 608.8L249.1 608.4L246.3 607.7L243.7 606.8L241.1 605.6L238.7 604.2L236.4 602.6L234.3 600.7" fill="none" stroke="#000" stroke-width="1.60" stroke-linejoin="round" stroke-linecap="round"/>
<path d="M185.3 543.5L184.5 542.6L183.7 541.6L183.1 540.5L182.5 539.4L182.1 538.3L181.7 537.1L181.5 535.9L181.4 534.6L181.4 533.4L181.5 532.2L181.8 530.9L182.1 529.8L182.6 528.6L183.2 527.5L183.9 526.5L184.6 525.5L185.5 524.6L186.5 523.6L187.7 522.5L189.0 521.4L190.5 520.1L192.1 518.8L193.7 517.4L195.5 516.0L197.4 514.5L199.4 512.9L201.4 511.3L203.6 509.7L205.9 508.0L208.2 506.2L210.6 504.4L213.1 502.6L215.6 500.8L218.2 498.9L220.9 496.9L223.7 495.0L226.4 493.0L229.3 491.0L232.2 489.0L235.1 486.9L238.1 484.9L241.1 482.8L244.1 480.7L247.2 478.6L250.3 476.5L253.4 474.4L256.5 472.3L259.7 470.2L262.8 468.0L266.0 465.9L269.1 463.8L272.3 461.7L275.5 459.6L278.6 457.6L281.8 455.5L284.9 453.5L288.0 451.4L291.1 449.4L294.1 447.5L297.2 445.5L300.2 443.6L303.1 441.7L306.0 439.8L308.9 438.0L311.7 436.2L314.5 434.5L317.2 432.8L319.9 431.1L322.5 429.5L325.0 428.0L327.5 426.5L329.9 425.0L332.2 423.6L334.4 422.3L336.5 421.0L338.6 419.8L340.5 418.6L342.4 417.5L344.2 416.5L345.8 415.6L347.4 414.7L348.8 413.9L350.1 413.2L351.2 412.6L352.2 412.1L353.3 411.8L354.4 411.6L355.5 411.5L356.7 411.5L357.8 411.7L358.9 412.0L359.9 412.4L360.9 413.0L361.9 413.7L362.7 414.5L363.4 415.4L364.0 416.3L364.5 417.4L364.9 418.5L365.1 419.6L365.2 420.7L365.2 421.9L365.0 423.0L364.6 424.7L364.1 426.5L363.6 428.4L362.9 430.4L362.2 432.5L361.4 434.7L360.5 437.0L359.6 439.4L358.6 441.8L357.5 444.3L356.3 446.8L355.1 449.4L353.9 452.1L352.5 454.8L351.2 457.6L349.7 460.4L348.2 463.3L346.7 466.2L345.1 469.1L343.5 472.1L341.9 475.1L340.2 478.1L338.4 481.1L336.7 484.2L334.9 487.3L333.0 490.4L331.2 493.5L329.3 496.6L327.4 499.7L325.5 502.8L323.6 505.9L321.6 509.0L319.6 512.1L317.7 515.2L315.7 518.3L313.7 521.4L311.7 524.4L309.7 527.4L307.8 530.4L305.8 533.3L303.8 536.3L301.9 539.1L299.9 542.0L298.0 544.8L296.1 547.6L294.2 550.3L292.3 552.9L290.4 555.5L288.6 558.1L286.8 560.6L285.0 563.0L283.3 565.3L281.6 567.6L279.9 569.8L278.3 572.0L276.8 574.0L275.2 576.0L273.7 577.9L272.3 579.7L270.9 581.4L269.6 583.0L268.4 584.5L267.2 585.9L266.1 587.2L265.0 588.3L264.1 589.2L263.1 590.0L262.1 590.7L261.0 591.3L259.8 591.8L258.6 592.2L257.3 592.5L256.1 592.6L254.8 592.6L253.6 592.5L252.3 592.3L251.1 592.0L250.0 591.6L248.8 591.0L247.8 590.4L246.8 589.6L245.8 588.8" fill="none" stroke="#000" stroke-width="1.60" stroke-linejoin="round" stroke-linecap="round"/>
<path d="M234.3 600.7L232.4 598.7L230.6 596.5L229.1 594.1L227.8 591.6L226.8 589.0L226.0 586.3L225.4 583.5L225.1 580.7L225.1 577.9L225.4 575.1L225.9 572.3L226.7 569.6L227.7 566.9L229.0 564.4L230.5 562.0L232.2 559.8L234.2 557.7L235.5 556.5L236.9 555.2L238.4 553.9L240.0 552.5L241.7 551.1L243.5 549.6L245.4 548.0L247.4 546.5L249.4 544.8L251.6 543.1L253.8 541.4L256.2 539.7L258.5 537.9L261.0 536.0L263.5 534.1L266.1 532.2L268.8 530.3L271.5 528.3L274.3 526.3L277.1 524.3L280.0 522.2L282.9 520.1L285.9 518.0L288.9 515.9L291.9 513.8L295.0 511.7L298.1 509.5L301.2 507.4L304.3 505.2L307.5 503.0L310.6 500.9L313.8 498.7L317.0 496.6L320.2 494.4L323.3 492.3L326.5 490.1L329.7 488.0L332.9 485.9L336.0 483.8L339.1 481.8L342.2 479.7L345.3 477.7L348.4 475.7L351.4 473.7L354.3 471.8L357.3 469.9L360.2 468.0L363.0 466.2L365.8 464.4L368.6 462.7L371.3 461.0L373.9 459.3L376.5 457.7L379.0 456.2L381.4 454.7L383.7 453.3L386.0 451.9L388.2 450.6L390.3 449.3L392.3 448.1L394.3 447.0L396.1 445.9L397.9 444.9L399.5 444.0L401.1 443.2L402.5 442.4L403.9 441.7L406.7 440.5L409.6 439.7L412.6 439.2L415.6 439.0L418.6 439.2L421.5 439.8L424.4 440.7L427.1 442.0L429.7 443.5L432.1 445.4L434.2 447.5L436.1 449.8L437.7 452.3L439.0 455.0L439.9 457.9L440.5 460.8L440.8 463.8L440.7 466.8L440.2 469.8L439.8 471.9L439.2 474.1L438.5 476.4L437.8 478.7L437.0 481.1L436.1 483.5L435.2 486.0L434.2 488.6L433.1 491.2L432.0 493.9L430.8 496.6L429.5 499.3L428.2 502.1L426.8 505.0L425.4 507.9L423.9 510.8L422.4 513.8L420.9 516.8L419.3 519.8L417.6 522.9L415.9 526.0L414.2 529.1L412.4 532.2L410.7 535.4L408.8 538.6L407.0 541.7L405.1 544.9L403.2 548.1L401.3 551.3L399.4 554.5L397.4 557.7L395.5 560.9L393.5 564.1L391.5 567.3L389.5 570.4L387.5 573.6L385.5 576.7L383.5 579.8L381.5 582.9L379.5 585.9L377.5 588.9L375.6 591.9L373.6 594.9L371.6 597.8L369.7 600.6L367.7 603.4L365.8 606.2L363.9 608.9L362.1 611.6L360.2 614.2L358.4 616.7L356.6 619.2L354.9 621.6L353.2 623.9L351.5 626.2L349.9 628.4L348.2 630.5L346.7 632.6L345.2 634.5L343.7 636.4L342.3 638.2L340.9 639.9L339.6 641.5L338.3 643.0L337.1 644.4L335.9 645.7L334.0 647.7L331.8 649.5L329.6 651.1L327.1 652.5L324.6 653.6L321.9 654.5L319.2 655.2L316.4 655.5L313.6 655.7L310.8 655.5L308.1 655.1L305.3 654.4L302.7 653.5L300.1 652.3L297.7 650.9L295.4 649.3L293.3 647.4L304.8 635.5L305.8 636.3L306.8 637.1L307.8 637.7L309.0 638.3L310.1 638.7L311.3 639.0L312.6 639.2L313.8 639.3L315.1 639.3L316.3 639.2L317.6 638.9L318.8 638.5L320.0 638.0L321.1 637.4L322.1 636.7L323.1 635.9L324.0 635.0L325.1 633.9L326.2 632.6L327.3 631.2L328.6 629.8L329.8 628.2L331.2 626.5L332.6 624.7L334.1 622.8L335.6 620.9L337.1 618.8L338.7 616.7L340.4 614.5L342.0 612.2L343.8 609.8L345.5 607.4L347.3 604.9L349.1 602.4L350.9 599.8L352.8 597.1L354.7 594.4L356.6 591.7L358.5 588.8L360.4 586.0L362.4 583.1L364.3 580.2L366.3 577.2L368.3 574.2L370.3 571.2L372.2 568.1L374.2 565.0L376.2 562.0L378.1 558.9L380.1 555.7L382.1 552.6L384.0 549.5L385.9 546.3L387.8 543.2L389.7 540.0L391.6 536.9L393.4 533.8L395.2 530.7L397.0 527.6L398.7 524.5L400.5 521.4L402.1 518.4L403.8 515.4L405.4 512.4L406.9 509.5L408.5 506.6L409.9 503.7L411.3 500.9L412.7 498.1L414.0 495.4L415.3 492.8L416.5 490.1L417.6 487.6L418.7 485.1L419.7 482.7L420.6 480.4L421.5 478.1L422.2 475.9L422.9 473.9L423.6 471.9L424.1 470.0L424.6 468.2L425.0 466.5L425.2 465.4L425.2 464.2L425.1 463.1L424.9 462.0L424.5 460.9L424.0 459.8L423.4 458.9L422.7 458.0L421.9 457.2L420.9 456.5L419.9 455.9L418.9 455.5L417.8 455.2L416.7 455.0L415.5 455.0L414.4 455.1L413.3 455.3L412.2 455.6L411.2 456.1L410.1 456.7L408.8 457.4L407.4 458.2L405.9 459.1L404.2 460.0L402.5 461.0L400.6 462.1L398.7 463.3L396.6 464.5L394.5 465.8L392.3 467.2L390.0 468.6L387.6 470.1L385.1 471.6L382.6 473.2L380.0 474.9L377.4 476.5L374.7 478.3L371.9 480.1L369.1 481.9L366.2 483.7L363.3 485.6L360.4 487.5L357.4 489.5L354.4 491.5L351.3 493.5L348.2 495.5L345.1 497.6L342.0 499.7L338.9 501.8L335.8 503.9L332.6 506.0L329.5 508.2L326.3 510.3L323.2 512.5L320.0 514.6L316.9 516.8L313.8 518.9L310.7 521.1L307.6 523.2L304.5 525.4L301.5 527.5L298.5 529.6L295.5 531.7L292.6 533.8L289.7 535.8L286.9 537.9L284.1 539.9L281.4 541.9L278.7 543.8L276.1 545.7L273.6 547.6L271.1 549.5L268.7 551.3L266.4 553.1L264.1 554.8L262.0 556.5L259.9 558.1L257.9 559.7L256.0 561.2L254.2 562.7L252.6 564.1L251.0 565.4L249.6 566.6L248.2 567.8L247.0 568.9L246.0 569.9L245.1 570.8L244.4 571.8L243.7 572.8L243.1 573.9L242.6 575.1L242.3 576.2L242.0 577.5L241.9 578.7L241.9 579.9L242.0 581.2L242.2 582.4L242.6 583.6L243.0 584.7L243.6 585.8L244.2 586.9L245.0 587.9L245.8 588.8Z" fill="#fff" stroke="none"/>
<path d="M234.3 600.7L232.4 598.7L230.6 596.5L229.1 594.1L227.8 591.6L226.8 589.0L226.0 586.3L225.4 583.5L225.1 580.7L225.1 577.9L225.4 575.1L225.9 572.3L226.7 569.6L227.7 566.9L229.0 564.4L230.5 562.0L232.2 559.8L234.2 557.7L235.5 556.5L236.9 555.2L238.4 553.9L240.0 552.5L241.7 551.1L243.5 549.6L245.4 548.0L247.4 546.5L249.4 544.8L251.6 543.1L253.8 541.4L256.2 539.7L258.5 537.9L261.0 536.0L263.5 534.1L266.1 532.2L268.8 530.3L271.5 528.3L274.3 526.3L277.1 524.3L280.0 522.2L282.9 520.1L285.9 518.0L288.9 515.9L291.9 513.8L295.0 511.7L298.1 509.5L301.2 507.4L304.3 505.2L307.5 503.0L310.6 500.9L313.8 498.7L317.0 496.6L320.2 494.4L323.3 492.3L326.5 490.1L329.7 488.0L332.9 485.9L336.0 483.8L339.1 481.8L342.2 479.7L345.3 477.7L348.4 475.7L351.4 473.7L354.3 471.8L357.3 469.9L360.2 468.0L363.0 466.2L365.8 464.4L368.6 462.7L371.3 461.0L373.9 459.3L376.5 457.7L379.0 456.2L381.4 454.7L383.7 453.3L386.0 451.9L388.2 450.6L390.3 449.3L392.3 448.1L394.3 447.0L396.1 445.9L397.9 444.9L399.5 444.0L401.1 443.2L402.5 442.4L403.9 441.7L406.7 440.5L409.6 439.7L412.6 439.2L415.6 439.0L418.6 439.2L421.5 439.8L424.4 440.7L427.1 442.0L429.7 443.5L432.1 445.4L434.2 447.5L436.1 449.8L437.7 452.3L439.0 455.0L439.9 457.9L440.5 460.8L440.8 463.8L440.7 466.8L440.2 469.8L439.8 471.9L439.2 474.1L438.5 476.4L437.8 478.7L437.0 481.1L436.1 483.5L435.2 486.0L434.2 488.6L433.1 491.2L432.0 493.9L430.8 496.6L429.5 499.3L428.2 502.1L426.8 505.0L425.4 507.9L423.9 510.8L422.4 513.8L420.9 516.8L419.3 519.8L417.6 522.9L415.9 526.0L414.2 529.1L412.4 532.2L410.7 535.4L408.8 538.6L407.0 541.7L405.1 544.9L403.2 548.1L401.3 551.3L399.4 554.5L397.4 557.7L395.5 560.9L393.5 564.1L391.5 567.3L389.5 570.4L387.5 573.6L385.5 576.7L383.5 579.8L381.5 582.9L379.5 585.9L377.5 588.9L375.6 591.9L373.6 594.9L371.6 597.8L369.7 600.6L367.7 603.4L365.8 606.2L363.9 608.9L362.1 611.6L360.2 614.2L358.4 616.7L356.6 619.2L354.9 621.6L353.2 623.9L351.5 626.2L349.9 628.4L348.2 630.5L346.7 632.6L345.2 634.5L343.7 636.4L342.3 638.2L340.9 639.9L339.6 641.5L338.3 643.0L337.1 644.4L335.9 645.7L334.0 647.7L331.8 649.5L329.6 651.1L327.1 652.5L324.6 653.6L321.9 654.5L319.2 655.2L316.4 655.5L313.6 655.7L310.8 655.5L308.1 655.1L305.3 654.4L302.7 653.5L300.1 652.3L297.7 650.9L295.4 649.3L293.3 647.4" fill="none" stroke="#000" stroke-width="1.60" stroke-linejoin="round" stroke-linecap="round"/>
<path d="M245.8 588.8L245.0 587.9L244.2 586.9L243.6 585.8L243.0 584.7L242.6 583.6L242.2 582.4L242.0 581.2L241.9 579.9L241.9 578.7L242.0 577.5L242.3 576.2L242.6 575.1L243.1 573.9L243.7 572.8L244.4 571.8L245.1 570.8L246.0 569.9L247.0 568.9L248.2 567.8L249.6 566.6L251.0 565.4L252.6 564.1L254.2 562.7L256.0 561.2L257.9 559.7L259.9 558.1L262.0 556.5L264.1 554.8L266.4 553.1L268.7 551.3L271.1 549.5L273.6 547.6L276.1 545.7L278.7 543.8L281.4 541.9L284.1 539.9L286.9 537.9L289.7 535.8L292.6 533.8L295.5 531.7L298.5 529.6L301.5 527.5L304.5 525.4L307.6 523.2L310.7 521.1L313.8 518.9L316.9 516.8L320.0 514.6L323.2 512.5L326.3 510.3L329.5 508.2L332.6 506.0L335.8 503.9L338.9 501.8L342.0 499.7L345.1 497.6L348.2 495.5L351.3 493.5L354.4 491.5L357.4 489.5L360.4 487.5L363.3 485.6L366.2 483.7L369.1 481.9L371.9 480.1L374.7 478.3L377.4 476.5L380.0 474.9L382.6 473.2L385.1 471.6L387.6 470.1L390.0 468.6L392.3 467.2L394.5 465.8L396.6 464.5L398.7 463.3L400.6 462.1L402.5 461.0L404.2 460.0L405.9 459.1L407.4 458.2L408.8 457.4L410.1 456.7L411.2 456.1L412.2 455.6L413.3 455.3L414.4 455.1L415.5 455.0L416.7 455.0L417.8 455.2L418.9 455.5L419.9 455.9L420.9 456.5L421.9 457.2L422.7 458.0L423.4 458.9L424.0 459.8L424.5 460.9L424.9 462.0L425.1 463.1L425.2 464.2L425.2 465.4L425.0 466.5L424.6 468.2L424.1 470.0L423.6 471.9L422.9 473.9L422.2 475.9L421.5 478.1L420.6 480.4L419.7 482.7L418.7 485.1L417.6 487.6L416.5 490.1L415.3 492.8L414.0 495.4L412.7 498.1L411.3 500.9L409.9 503.7L408.5 506.6L406.9 509.5L405.4 512.4L403.8 515.4L402.1 518.4L400.5 521.4L398.7 524.5L397.0 527.6L395.2 530.7L393.4 533.8L391.6 536.9L389.7 540.0L387.8 543.2L385.9 546.3L384.0 549.5L382.1 552.6L380.1 555.7L378.1 558.9L376.2 562.0L374.2 565.0L372.2 568.1L370.3 571.2L368.3 574.2L366.3 577.2L364.3 580.2L362.4 583.1L360.4 586.0L358.5 588.8L356.6 591.7L354.7 594.4L352.8 597.1L350.9 599.8L349.1 602.4L347.3 604.9L345.5 607.4L343.8 609.8L342.0 612.2L340.4 614.5L338.7 616.7L337.1 618.8L335.6 620.9L334.1 622.8L332.6 624.7L331.2 626.5L329.8 628.2L328.6 629.8L327.3 631.2L326.2 632.6L325.1 633.9L324.0 635.0L323.1 635.9L322.1 636.7L321.1 637.4L320.0 638.0L318.8 638.5L317.6 638.9L316.3 639.2L315.1 639.3L313.8 639.3L312.6 639.2L311.3 639.0L310.1 638.7L309.0 638.3L307.8 637.7L306.8 637.1L305.8 636.3L304.8 635.5" fill="none" stroke="#000" stroke-width="1.60" stroke-linejoin="round" stroke-linecap="round"/>
<path d="M293.3 647.4L291.4 645.4L289.6 643.2L288.1 640.8L286.8 638.3L285.8 635.7L285.0 633.0L284.4 630.2L284.1 627.4L284.1 624.6L284.4 621.8L284.9 619.0L285.7 616.3L286.7 613.6L288.0 611.1L289.5 608.7L291.2 606.5L293.2 604.4L294.4 603.2L295.8 602.0L297.3 600.7L298.8 599.3L300.5 597.9L302.2 596.5L304.1 595.0L306.0 593.4L308.0 591.8L310.1 590.2L312.3 588.5L314.6 586.7L316.9 585.0L319.3 583.2L321.8 581.3L324.4 579.4L327.0 577.5L329.6 575.6L332.4 573.6L335.1 571.6L338.0 569.6L340.8 567.5L343.7 565.5L346.7 563.4L349.7 561.3L352.7 559.2L355.7 557.0L358.8 554.9L361.9 552.7L365.0 550.6L368.2 548.4L371.3 546.3L374.5 544.1L377.6 542.0L380.8 539.9L384.0 537.7L387.1 535.6L390.3 533.5L393.4 531.4L396.5 529.3L399.6 527.2L402.7 525.2L405.8 523.2L408.8 521.2L411.8 519.2L414.8 517.3L417.7 515.4L420.6 513.5L423.5 511.7L426.3 509.9L429.0 508.1L431.7 506.4L434.4 504.8L436.9 503.1L439.4 501.6L441.9 500.1L444.3 498.6L446.5 497.2L448.8 495.8L450.9 494.5L453.0 493.3L454.9 492.1L456.8 491.0L458.6 490.0L460.3 489.0L461.9 488.1L463.4 487.3L464.9 486.5L466.2 485.8L469.0 484.6L472.0 483.7L475.0 483.2L478.1 483.0L481.1 483.2L484.2 483.7L487.1 484.7L489.9 485.9L492.6 487.5L495.0 489.4L497.2 491.5L499.1 494.0L500.6 496.6L501.9 499.4L502.8 502.3L503.4 505.3L503.6 508.3L503.4 511.3L502.9 514.3L502.5 516.4L501.9 518.5L501.3 520.7L500.6 523.0L499.8 525.3L499.0 527.7L498.1 530.2L497.1 532.7L496.1 535.2L495.0 537.9L493.9 540.5L492.7 543.3L491.4 546.0L490.2 548.9L488.8 551.7L487.4 554.6L486.0 557.6L484.5 560.6L483.0 563.6L481.4 566.6L479.8 569.7L478.2 572.8L476.5 576.0L474.8 579.1L473.1 582.3L471.3 585.5L469.5 588.7L467.7 591.9L465.9 595.1L464.1 598.3L462.2 601.5L460.3 604.7L458.4 608.0L456.5 611.2L454.6 614.4L452.7 617.5L450.8 620.7L448.8 623.9L446.9 627.0L445.0 630.1L443.1 633.2L441.1 636.2L439.2 639.2L437.3 642.2L435.4 645.1L433.5 648.0L431.7 650.9L429.8 653.7L428.0 656.4L426.2 659.1L424.4 661.7L422.6 664.3L420.9 666.9L419.2 669.3L417.5 671.7L415.8 674.0L414.2 676.3L412.6 678.4L411.1 680.5L409.6 682.6L408.1 684.5L406.7 686.3L405.3 688.1L404.0 689.8L402.7 691.3L401.5 692.8L400.3 694.2L399.1 695.5L397.2 697.5L395.0 699.3L392.8 700.9L390.3 702.3L387.8 703.4L385.1 704.3L382.4 705.0L379.6 705.3L376.8 705.5L374.0 705.3L371.3 704.9L368.5 704.2L365.9 703.3L363.3 702.1L360.9 700.7L358.6 699.1L356.5 697.2L368.0 685.3L369.0 686.1L370.0 686.9L371.0 687.5L372.2 688.1L373.3 688.5L374.5 688.8L375.8 689.0L377.0 689.1L378.3 689.1L379.5 689.0L380.8 688.7L382.0 688.3L383.2 687.8L384.3 687.2L385.3 686.5L386.3 685.7L387.2 684.8L388.2 683.7L389.3 682.5L390.4 681.2L391.5 679.7L392.8 678.2L394.1 676.5L395.4 674.8L396.8 672.9L398.2 671.0L399.7 669.0L401.2 666.9L402.8 664.7L404.4 662.5L406.0 660.1L407.7 657.7L409.4 655.3L411.1 652.7L412.9 650.2L414.7 647.5L416.5 644.8L418.3 642.1L420.1 639.3L422.0 636.4L423.9 633.5L425.7 630.6L427.6 627.6L429.5 624.6L431.4 621.6L433.3 618.5L435.2 615.5L437.1 612.4L439.0 609.2L440.9 606.1L442.8 603.0L444.7 599.8L446.5 596.6L448.4 593.5L450.2 590.3L452.0 587.2L453.8 584.0L455.6 580.8L457.3 577.7L459.1 574.6L460.7 571.5L462.4 568.4L464.0 565.3L465.6 562.3L467.2 559.3L468.7 556.3L470.2 553.4L471.6 550.5L473.0 547.7L474.4 544.9L475.6 542.1L476.9 539.4L478.1 536.8L479.2 534.2L480.3 531.7L481.3 529.2L482.2 526.9L483.1 524.6L483.9 522.3L484.7 520.2L485.3 518.1L485.9 516.2L486.5 514.3L486.9 512.6L487.3 511.0L487.4 509.9L487.4 508.7L487.2 507.6L487.0 506.6L486.6 505.5L486.1 504.6L485.4 503.7L484.7 502.9L483.9 502.2L483.0 501.5L482.1 501.0L481.2 500.6L480.1 500.3L479.1 500.1L478.0 500.0L477.0 500.1L475.9 500.2L474.9 500.6L473.9 501.0L472.8 501.6L471.6 502.2L470.2 503.0L468.7 503.8L467.1 504.7L465.4 505.7L463.6 506.8L461.7 507.9L459.7 509.1L457.6 510.4L455.4 511.7L453.2 513.1L450.8 514.5L448.4 516.0L446.0 517.5L443.4 519.1L440.8 520.8L438.2 522.5L435.4 524.2L432.7 526.0L429.8 527.8L427.0 529.7L424.1 531.6L421.1 533.5L418.1 535.4L415.1 537.4L412.1 539.4L409.0 541.4L405.9 543.5L402.8 545.5L399.7 547.6L396.6 549.7L393.5 551.8L390.3 553.9L387.2 556.1L384.0 558.2L380.9 560.3L377.8 562.5L374.7 564.6L371.6 566.7L368.5 568.9L365.5 571.0L362.4 573.1L359.4 575.2L356.5 577.3L353.6 579.3L350.7 581.4L347.8 583.4L345.1 585.4L342.3 587.4L339.6 589.3L337.0 591.2L334.4 593.1L332.0 595.0L329.5 596.8L327.2 598.5L324.9 600.3L322.7 601.9L320.6 603.6L318.6 605.2L316.6 606.7L314.8 608.2L313.0 609.6L311.4 610.9L309.9 612.2L308.5 613.5L307.2 614.6L306.0 615.7L305.0 616.6L304.1 617.5L303.4 618.5L302.7 619.5L302.1 620.6L301.6 621.8L301.3 622.9L301.0 624.2L300.9 625.4L300.9 626.6L301.0 627.9L301.2 629.1L301.6 630.3L302.0 631.4L302.6 632.5L303.2 633.6L304.0 634.6L304.8 635.5Z" fill="#fff" stroke="none"/>
<path d="M293.3 647.4L291.4 645.4L289.6 643.2L288.1 640.8L286.8 638.3L285.8 635.7L285.0 633.0L284.4 630.2L284.1 627.4L284.1 624.6L284.4 621.8L284.9 619.0L285.7 616.3L286.7 613.6L288.0 611.1L289.5 608.7L291.2 606.5L293.2 604.4L294.4 603.2L295.8 602.0L297.3 600.7L298.8 599.3L300.5 597.9L302.2 596.5L304.1 595.0L306.0 593.4L308.0 591.8L310.1 590.2L312.3 588.5L314.6 586.7L316.9 585.0L319.3 583.2L321.8 581.3L324.4 579.4L327.0 577.5L329.6 575.6L332.4 573.6L335.1 571.6L338.0 569.6L340.8 567.5L343.7 565.5L346.7 563.4L349.7 561.3L352.7 559.2L355.7 557.0L358.8 554.9L361.9 552.7L365.0 550.6L368.2 548.4L371.3 546.3L374.5 544.1L377.6 542.0L380.8 539.9L384.0 537.7L387.1 535.6L390.3 533.5L393.4 531.4L396.5 529.3L399.6 527.2L402.7 525.2L405.8 523.2L408.8 521.2L411.8 519.2L414.8 517.3L417.7 515.4L420.6 513.5L423.5 511.7L426.3 509.9L429.0 508.1L431.7 506.4L434.4 504.8L436.9 503.1L439.4 501.6L441.9 500.1L444.3 498.6L446.5 497.2L448.8 495.8L450.9 494.5L453.0 493.3L454.9 492.1L456.8 491.0L458.6 490.0L460.3 489.0L461.9 488.1L463.4 487.3L464.9 486.5L466.2 485.8L469.0 484.6L472.0 483.7L475.0 483.2L478.1 483.0L481.1 483.2L484.2 483.7L487.1 484.7L489.9 485.9L492.6 487.5L495.0 489.4L497.2 491.5L499.1 494.0L500.6 496.6L501.9 499.4L502.8 502.3L503.4 505.3L503.6 508.3L503.4 511.3L502.9 514.3L502.5 516.4L501.9 518.5L501.3 520.7L500.6 523.0L499.8 525.3L499.0 527.7L498.1 530.2L497.1 532.7L496.1 535.2L495.0 537.9L493.9 540.5L492.7 543.3L491.4 546.0L490.2 548.9L488.8 551.7L487.4 554.6L486.0 557.6L484.5 560.6L483.0 563.6L481.4 566.6L479.8 569.7L478.2 572.8L476.5 576.0L474.8 579.1L473.1 582.3L471.3 585.5L469.5 588.7L467.7 591.9L465.9 595.1L464.1 598.3L462.2 601.5L460.3 604.7L458.4 608.0L456.5 611.2L454.6 614.4L452.7 617.5L450.8 620.7L448.8 623.9L446.9 627.0L445.0 630.1L443.1 633.2L441.1 636.2L439.2 639.2L437.3 642.2L435.4 645.1L433.5 648.0L431.7 650.9L429.8 653.7L428.0 656.4L426.2 659.1L424.4 661.7L422.6 664.3L420.9 666.9L419.2 669.3L417.5 671.7L415.8 674.0L414.2 676.3L412.6 678.4L411.1 680.5L409.6 682.6L408.1 684.5L406.7 686.3L405.3 688.1L404.0 689.8L402.7 691.3L401.5 692.8L400.3 694.2L399.1 695.5L397.2 697.5L395.0 699.3L392.8 700.9L390.3 702.3L387.8 703.4L385.1 704.3L382.4 705.0L379.6 705.3L376.8 705.5L374.0 705.3L371.3 704.9L368.5 704.2L365.9 703.3L363.3 702.1L360.9 700.7L358.6 699.1L356.5 697.2" fill="none" stroke="#000" stroke-width="1.60" stroke-linejoin="round" stroke-linecap="round"/>
<path d="M304.8 635.5L304.0 634.6L303.2 633.6L302.6 632.5L302.0 631.4L301.6 630.3L301.2 629.1L301.0 627.9L300.9 626.6L300.9 625.4L301.0 624.2L301.3 622.9L301.6 621.8L302.1 620.6L302.7 619.5L303.4 618.5L304.1 617.5L305.0 616.6L306.0 615.7L307.2 614.6L308.5 613.5L309.9 612.2L311.4 610.9L313.0 609.6L314.8 608.2L316.6 606.7L318.6 605.2L320.6 603.6L322.7 601.9L324.9 600.3L327.2 598.5L329.5 596.8L332.0 595.0L334.4 593.1L337.0 591.2L339.6 589.3L342.3 587.4L345.1 585.4L347.8 583.4L350.7 581.4L353.6 579.3L356.5 577.3L359.4 575.2L362.4 573.1L365.5 571.0L368.5 568.9L371.6 566.7L374.7 564.6L377.8 562.5L380.9 560.3L384.0 558.2L387.2 556.1L390.3 553.9L393.5 551.8L396.6 549.7L399.7 547.6L402.8 545.5L405.9 543.5L409.0 541.4L412.1 539.4L415.1 537.4L418.1 535.4L421.1 533.5L424.1 531.6L427.0 529.7L429.8 527.8L432.7 526.0L435.4 524.2L438.2 522.5L440.8 520.8L443.4 519.1L446.0 517.5L448.4 516.0L450.8 514.5L453.2 513.1L455.4 511.7L457.6 510.4L459.7 509.1L461.7 507.9L463.6 506.8L465.4 505.7L467.1 504.7L468.7 503.8L470.2 503.0L471.6 502.2L472.8 501.6L473.9 501.0L474.9 500.6L475.9 500.2L477.0 500.1L478.0 500.0L479.1 500.1L480.1 500.3L481.2 500.6L482.1 501.0L483.0 501.5L483.9 502.2L484.7 502.9L485.4 503.7L486.1 504.6L486.6 505.5L487.0 506.6L487.2 507.6L487.4 508.7L487.4 509.9L487.3 511.0L486.9 512.6L486.5 514.3L485.9 516.2L485.3 518.1L484.7 520.2L483.9 522.3L483.1 524.6L482.2 526.9L481.3 529.2L480.3 531.7L479.2 534.2L478.1 536.8L476.9 539.4L475.6 542.1L474.4 544.9L473.0 547.7L471.6 550.5L470.2 553.4L468.7 556.3L467.2 559.3L465.6 562.3L464.0 565.3L462.4 568.4L460.7 571.5L459.1 574.6L457.3 577.7L455.6 580.8L453.8 584.0L452.0 587.2L450.2 590.3L448.4 593.5L446.5 596.6L444.7 599.8L442.8 603.0L440.9 606.1L439.0 609.2L437.1 612.4L435.2 615.5L433.3 618.5L431.4 621.6L429.5 624.6L427.6 627.6L425.7 630.6L423.9 633.5L422.0 636.4L420.1 639.3L418.3 642.1L416.5 644.8L414.7 647.5L412.9 650.2L411.1 652.7L409.4 655.3L407.7 657.7L406.0 660.1L404.4 662.5L402.8 664.7L401.2 666.9L399.7 669.0L398.2 671.0L396.8 672.9L395.4 674.8L394.1 676.5L392.8 678.2L391.5 679.7L390.4 681.2L389.3 682.5L388.2 683.7L387.2 684.8L386.3 685.7L385.3 686.5L384.3 687.2L383.2 687.8L382.0 688.3L380.8 688.7L379.5 689.0L378.3 689.1L377.0 689.1L375.8 689.0L374.5 688.8L373.3 688.5L372.2 688.1L371.0 687.5L370.0 686.9L369.0 686.1L368.0 685.3" fill="none" stroke="#000" stroke-width="1.60" stroke-linejoin="round" stroke-linecap="round"/>
<path d="M356.5 697.2L354.6 695.2L352.8 693.0L351.3 690.6L350.0 688.1L349.0 685.5L348.2 682.8L347.6 680.0L347.3 677.2L347.3 674.4L347.6 671.6L348.1 668.8L348.9 666.1L349.9 663.4L351.2 660.9L352.7 658.5L354.4 656.3L356.4 654.2L357.6 653.0L359.0 651.8L360.4 650.5L361.9 649.2L363.6 647.9L365.3 646.4L367.1 645.0L369.0 643.4L371.0 641.9L373.1 640.3L375.3 638.6L377.5 636.9L379.8 635.2L382.2 633.4L384.7 631.6L387.2 629.7L389.8 627.9L392.4 625.9L395.2 624.0L397.9 622.0L400.7 620.0L403.6 618.0L406.5 616.0L409.5 613.9L412.5 611.8L415.5 609.7L418.5 607.6L421.6 605.5L424.7 603.4L427.9 601.3L431.0 599.1L434.2 597.0L437.4 594.8L440.5 592.7L443.7 590.6L446.9 588.4L450.1 586.3L453.3 584.2L456.5 582.1L459.7 580.0L462.8 577.9L466.0 575.9L469.1 573.8L472.2 571.8L475.3 569.8L478.3 567.9L481.3 565.9L484.3 564.0L487.2 562.1L490.1 560.3L492.9 558.5L495.7 556.7L498.5 555.0L501.1 553.3L503.8 551.7L506.3 550.1L508.8 548.6L511.2 547.1L513.6 545.7L515.9 544.3L518.1 543.0L520.2 541.7L522.2 540.5L524.1 539.4L526.0 538.3L527.8 537.3L529.4 536.3L531.0 535.4L532.5 534.6L533.9 533.9L535.2 533.2L538.1 531.9L541.1 531.0L544.2 530.5L547.4 530.4L550.6 530.7L553.7 531.4L556.7 532.5L559.6 533.9L562.2 535.7L564.5 537.9L566.5 540.4L568.2 543.1L569.5 546.0L570.5 549.0L571.0 552.1L571.2 555.3L570.9 558.4L570.3 561.4L569.8 563.4L569.2 565.5L568.5 567.6L567.8 569.8L567.0 572.0L566.2 574.3L565.3 576.7L564.4 579.2L563.4 581.7L562.3 584.3L561.2 587.0L560.0 589.7L558.8 592.4L557.6 595.3L556.3 598.1L554.9 601.1L553.6 604.0L552.1 607.0L550.7 610.1L549.2 613.2L547.6 616.3L546.1 619.4L544.5 622.6L542.9 625.8L541.2 629.0L539.5 632.3L537.8 635.6L536.1 638.8L534.4 642.1L532.6 645.4L530.8 648.7L529.0 652.0L527.2 655.3L525.4 658.6L523.6 661.9L521.7 665.2L519.9 668.5L518.0 671.8L516.2 675.0L514.3 678.2L512.5 681.4L510.6 684.6L508.8 687.7L507.0 690.9L505.1 693.9L503.3 697.0L501.5 699.9L499.7 702.9L497.9 705.8L496.2 708.6L494.4 711.4L492.7 714.2L491.0 716.9L489.3 719.5L487.6 722.0L486.0 724.5L484.4 727.0L482.8 729.3L481.3 731.6L479.8 733.8L478.3 735.9L476.9 737.9L475.4 739.8L474.1 741.7L472.8 743.5L471.5 745.1L470.2 746.7L469.0 748.2L467.8 749.6L466.7 750.9L464.8 752.9L462.7 754.6L460.5 756.2L458.1 757.6L455.7 758.8L453.1 759.7L450.5 760.4L447.8 760.9L445.1 761.1L442.3 761.1L439.6 760.9L436.9 760.4L434.3 759.6L431.7 758.7L429.2 757.5L426.9 756.1L424.7 754.5L422.6 752.7L434.1 740.7L435.1 741.6L436.1 742.3L437.2 743.0L438.3 743.6L439.5 744.0L440.7 744.4L442.0 744.7L443.2 744.8L444.5 744.8L445.8 744.8L447.0 744.6L448.3 744.2L449.5 743.8L450.7 743.3L451.8 742.7L452.9 741.9L453.9 741.1L454.8 740.2L455.7 739.2L456.7 738.0L457.7 736.7L458.9 735.3L460.0 733.8L461.2 732.1L462.5 730.4L463.8 728.6L465.2 726.7L466.6 724.6L468.1 722.5L469.6 720.3L471.1 718.1L472.6 715.7L474.2 713.3L475.9 710.8L477.5 708.3L479.2 705.6L480.9 702.9L482.6 700.2L484.3 697.4L486.1 694.5L487.8 691.6L489.6 688.7L491.4 685.7L493.2 682.7L495.0 679.6L496.8 676.5L498.7 673.4L500.5 670.2L502.3 667.1L504.1 663.9L506.0 660.6L507.8 657.4L509.6 654.2L511.4 650.9L513.2 647.6L515.0 644.4L516.8 641.1L518.5 637.9L520.2 634.6L522.0 631.4L523.7 628.1L525.3 624.9L527.0 621.7L528.6 618.6L530.2 615.4L531.8 612.3L533.3 609.2L534.8 606.1L536.3 603.1L537.7 600.2L539.1 597.2L540.4 594.3L541.7 591.5L543.0 588.7L544.2 586.0L545.3 583.3L546.4 580.7L547.5 578.2L548.5 575.8L549.5 573.4L550.3 571.1L551.2 568.8L551.9 566.7L552.6 564.7L553.3 562.7L553.8 560.9L554.3 559.2L554.7 557.6L554.9 556.5L554.8 555.4L554.7 554.4L554.4 553.4L554.0 552.4L553.5 551.5L552.8 550.7L552.1 550.0L551.3 549.4L550.5 548.8L549.7 548.4L548.7 548.0L547.8 547.7L546.8 547.6L545.8 547.6L544.8 547.7L543.8 548.0L542.9 548.4L541.8 548.9L540.6 549.6L539.2 550.3L537.8 551.1L536.2 552.0L534.5 553.0L532.7 554.0L530.8 555.1L528.9 556.3L526.8 557.5L524.7 558.8L522.4 560.2L520.1 561.6L517.7 563.1L515.3 564.6L512.7 566.1L510.2 567.8L507.5 569.4L504.8 571.1L502.0 572.9L499.2 574.7L496.4 576.5L493.5 578.3L490.5 580.2L487.5 582.1L484.5 584.1L481.5 586.1L478.4 588.1L475.3 590.1L472.2 592.1L469.0 594.2L465.9 596.3L462.7 598.4L459.5 600.5L456.4 602.6L453.2 604.7L450.0 606.8L446.8 608.9L443.7 611.1L440.5 613.2L437.4 615.3L434.3 617.4L431.2 619.5L428.2 621.6L425.1 623.7L422.1 625.8L419.2 627.9L416.3 629.9L413.4 631.9L410.5 633.9L407.8 635.9L405.0 637.8L402.4 639.7L399.8 641.6L397.2 643.5L394.7 645.3L392.3 647.1L390.0 648.8L387.7 650.5L385.6 652.1L383.5 653.7L381.5 655.3L379.6 656.8L377.7 658.2L376.0 659.6L374.4 660.9L372.9 662.2L371.6 663.4L370.3 664.5L369.2 665.5L368.2 666.4L367.3 667.3L366.6 668.3L365.9 669.3L365.3 670.4L364.8 671.6L364.5 672.7L364.2 674.0L364.1 675.2L364.1 676.4L364.2 677.7L364.4 678.9L364.8 680.1L365.2 681.2L365.8 682.3L366.4 683.4L367.2 684.4L368.0 685.3Z" fill="#fff" stroke="none"/>
<path d="M356.5 697.2L354.6 695.2L352.8 693.0L351.3 690.6L350.0 688.1L349.0 685.5L348.2 682.8L347.6 680.0L347.3 677.2L347.3 674.4L347.6 671.6L348.1 668.8L348.9 666.1L349.9 663.4L351.2 660.9L352.7 658.5L354.4 656.3L356.4 654.2L357.6 653.0L359.0 651.8L360.4 650.5L361.9 649.2L363.6 647.9L365.3 646.4L367.1 645.0L369.0 643.4L371.0 641.9L373.1 640.3L375.3 638.6L377.5 636.9L379.8 635.2L382.2 633.4L384.7 631.6L387.2 629.7L389.8 627.9L392.4 625.9L395.2 624.0L397.9 622.0L400.7 620.0L403.6 618.0L406.5 616.0L409.5 613.9L412.5 611.8L415.5 609.7L418.5 607.6L421.6 605.5L424.7 603.4L427.9 601.3L431.0 599.1L434.2 597.0L437.4 594.8L440.5 592.7L443.7 590.6L446.9 588.4L450.1 586.3L453.3 584.2L456.5 582.1L459.7 580.0L462.8 577.9L466.0 575.9L469.1 573.8L472.2 571.8L475.3 569.8L478.3 567.9L481.3 565.9L484.3 564.0L487.2 562.1L490.1 560.3L492.9 558.5L495.7 556.7L498.5 555.0L501.1 553.3L503.8 551.7L506.3 550.1L508.8 548.6L511.2 547.1L513.6 545.7L515.9 544.3L518.1 543.0L520.2 541.7L522.2 540.5L524.1 539.4L526.0 538.3L527.8 537.3L529.4 536.3L531.0 535.4L532.5 534.6L533.9 533.9L535.2 533.2L538.1 531.9L541.1 531.0L544.2 530.5L547.4 530.4L550.6 530.7L553.7 531.4L556.7 532.5L559.6 533.9L562.2 535.7L564.5 537.9L566.5 540.4L568.2 543.1L569.5 546.0L570.5 549.0L571.0 552.1L571.2 555.3L570.9 558.4L570.3 561.4L569.8 563.4L569.2 565.5L568.5 567.6L567.8 569.8L567.0 572.0L566.2 574.3L565.3 576.7L564.4 579.2L563.4 581.7L562.3 584.3L561.2 587.0L560.0 589.7L558.8 592.4L557.6 595.3L556.3 598.1L554.9 601.1L553.6 604.0L552.1 607.0L550.7 610.1L549.2 613.2L547.6 616.3L546.1 619.4L544.5 622.6L542.9 625.8L541.2 629.0L539.5 632.3L537.8 635.6L536.1 638.8L534.4 642.1L532.6 645.4L530.8 648.7L529.0 652.0L527.2 655.3L525.4 658.6L523.6 661.9" fill="none" stroke="#000" stroke-width="1.60" stroke-linejoin="round" stroke-linecap="round"/>
<path d="M368.0 685.3L367.2 684.4L366.4 683.4L365.8 682.3L365.2 681.2L364.8 680.1L364.4 678.9L364.2 677.7L364.1 676.4L364.1 675.2L364.2 674.0L364.5 672.7L364.8 671.6L365.3 670.4L365.9 669.3L366.6 668.3L367.3 667.3L368.2 666.4L369.2 665.5L370.3 664.5L371.6 663.4L372.9 662.2L374.4 660.9L376.0 659.6L377.7 658.2L379.6 656.8L381.5 655.3L383.5 653.7L385.6 652.1L387.7 650.5L390.0 648.8L392.3 647.1L394.7 645.3L397.2 643.5L399.8 641.6L402.4 639.7L405.0 637.8L407.8 635.9L410.5 633.9L413.4 631.9L416.3 629.9L419.2 627.9L422.1 625.8L425.1 623.7L428.2 621.6L431.2 619.5L434.3 617.4L437.4 615.3L440.5 613.2L443.7 611.1L446.8 608.9L450.0 606.8L453.2 604.7L456.4 602.6L459.5 600.5L462.7 598.4L465.9 596.3L469.0 594.2L472.2 592.1L475.3 590.1L478.4 588.1L481.5 586.1L484.5 584.1L487.5 582.1L490.5 580.2L493.5 578.3L496.4 576.5L499.2 574.7L502.0 572.9L504.8 571.1L507.5 569.4L510.2 567.8L512.7 566.1L515.3 564.6L517.7 563.1L520.1 561.6L522.4 560.2L524.7 558.8L526.8 557.5L528.9 556.3L530.8 555.1L532.7 554.0L534.5 553.0L536.2 552.0L537.8 551.1L539.2 550.3L540.6 549.6L541.8 548.9L542.9 548.4L543.8 548.0L544.8 547.7L545.8 547.6L546.8 547.6L547.8 547.7L548.7 548.0L549.7 548.4L550.5 548.8L551.3 549.4L552.1 550.0L552.8 550.7L553.5 551.5L554.0 552.4L554.4 553.4L554.7 554.4L554.8 555.4L554.9 556.5L554.7 557.6L554.3 559.2L553.8 560.9L553.3 562.7L552.6 564.7L551.9 566.7L551.2 568.8L550.3 571.1L549.5 573.4L548.5 575.8L547.5 578.2L546.4 580.7L545.3 583.3L544.2 586.0L543.0 588.7L541.7 591.5L540.4 594.3L539.1 597.2L537.7 600.2L536.3 603.1L534.8 606.1L533.3 609.2L531.8 612.3L530.2 615.4L528.6 618.6L527.0 621.7L525.3 624.9L523.7 628.1L522.0 631.4L520.2 634.6L518.5 637.9L516.8 641.1L515.0 644.4L513.2 647.6L511.4 650.9L509.6 654.2L507.8 657.4L506.0 660.6L504.1 663.9L502.3 667.1L500.5 670.2L498.7 673.4L496.8 676.5L495.0 679.6L493.2 682.7L491.4 685.7L489.6 688.7L487.8 691.6L486.1 694.5L484.3 697.4L482.6 700.2L480.9 702.9L479.2 705.6L477.5 708.3L475.9 710.8L474.2 713.3L472.6 715.7L471.1 718.1L469.6 720.3L468.1 722.5L466.6 724.6L465.2 726.7L463.8 728.6L462.5 730.4L461.2 732.1L460.0 733.8L458.9 735.3L457.7 736.7L456.7 738.0L455.7 739.2L454.8 740.2L453.9 741.1L452.9 741.9L451.8 742.7L450.7 743.3L449.5 743.8L448.3 744.2L447.0 744.6L445.8 744.8L444.5 744.8L443.2 744.8L442.0 744.7L440.7 744.4L439.5 744.0L438.3 743.6L437.2 743.0L436.1 742.3L435.1 741.6L434.1 740.7" fill="none" stroke="#000" stroke-width="1.60" stroke-linejoin="round" stroke-linecap="round"/>
<path d="M422.6 752.7L420.7 750.7L419.0 748.5L417.5 746.2L416.2 743.8L415.1 741.3L414.2 738.7L413.6 736.0L413.2 733.3L413.1 730.5L413.2 727.7L413.6 725.0L414.2 722.3L415.0 719.7L416.1 717.1L417.4 714.7L418.9 712.4L420.6 710.2L422.5 708.2L423.6 707.1L424.9 705.9L426.3 704.6L427.7 703.3L429.2 701.9L430.9 700.4L432.6 698.8L434.4 697.2L436.3 695.6L438.3 693.8L440.3 692.0L442.4 690.2L444.6 688.3L446.8 686.3L449.2 684.3L451.5 682.3L454.0 680.2L456.5 678.1L459.0 675.9L461.6 673.7L464.3 671.5L467.0 669.2L469.7 666.9L472.5 664.6L475.3 662.3L478.1 659.9L481.0 657.6L483.9 655.2L486.8 652.8L489.7 650.4L492.7 647.9L495.7 645.5L498.7 643.1L501.6 640.7L504.6 638.2L507.7 635.8L510.7 633.4L513.7 631.0L516.7 628.6L519.6 626.3L522.6 623.9L525.6 621.6L528.5 619.3L531.4 617.0L534.3 614.8L537.2 612.6L540.1 610.4L542.9 608.2L545.6 606.1L548.4 604.1L551.1 602.0L553.7 600.0L556.3 598.1L558.9 596.2L561.4 594.4L563.9 592.7L566.3 590.9L568.6 589.3L570.9 587.7L573.1 586.2L575.2 584.7L577.3 583.4L579.3 582.0L581.2 580.8L583.1 579.6L584.9 578.6L586.6 577.5L588.3 576.6L589.8 575.8L591.4 575.0L592.8 574.3L595.9 573.1L599.2 572.4L602.5 572.1L605.8 572.2L609.1 572.9L612.3 574.0L615.3 575.5L618.1 577.4L620.5 579.8L622.5 582.5L624.2 585.4L625.4 588.6L626.1 591.8L626.4 595.2L626.2 598.5L625.6 601.8L624.5 604.9L623.8 606.7L622.9 608.5L622.0 610.3L620.9 612.2L619.8 614.1L618.5 616.1L617.2 618.1L615.8 620.2L614.3 622.3L612.8 624.4L611.1 626.7L609.4 628.9L607.6 631.2L605.7 633.6L603.8 636.0L601.8 638.4L599.7 640.9L597.6 643.4L595.4 646.0L593.2 648.5L590.9 651.1L588.6 653.8L586.2 656.4L583.8 659.1L581.3 661.8L578.8 664.6L576.2 667.3L573.7 670.0L571.1 672.8L568.4 675.6L565.8 678.3L563.1 681.1L560.5 683.9L557.8 686.7L555.0 689.5L552.3 692.2L549.6 695.0L546.9 697.7L544.1 700.4L541.4 703.1L538.7 705.8L536.0 708.4L533.3 711.0L530.6 713.6L528.0 716.2L525.4 718.7L522.8 721.2L520.2 723.7L517.6 726.1L515.1 728.5L512.7 730.8L510.2 733.1L507.8 735.3L505.5 737.5L503.2 739.6L501.0 741.7L498.8 743.7L496.7 745.6L494.6 747.5L492.6 749.3L490.7 751.0L488.8 752.6L487.0 754.2L485.3 755.7L483.7 757.1L482.1 758.5L480.7 759.7L479.3 760.9L478.0 761.9L476.8 762.9L475.6 763.8L473.2 765.5L470.6 767.0L467.9 768.1L465.1 769.1L462.3 769.7L459.4 770.1L456.4 770.1L453.5 769.9L450.6 769.4L447.8 768.6L445.0 767.6L442.4 766.3L439.9 764.7L437.6 762.9L435.5 760.9L448.4 748.4L449.3 749.2L450.2 749.9L451.2 750.5L452.2 751.0L453.3 751.3L454.5 751.6L455.6 751.8L456.8 751.9L457.9 751.8L459.1 751.7L460.2 751.4L461.3 751.0L462.3 750.5L463.3 749.9L464.2 749.3L465.2 748.5L466.3 747.6L467.5 746.6L468.8 745.6L470.1 744.4L471.6 743.1L473.2 741.8L474.8 740.3L476.6 738.8L478.4 737.2L480.3 735.5L482.2 733.7L484.2 731.9L486.3 730.0L488.5 728.1L490.7 726.0L492.9 723.9L495.2 721.8L497.6 719.6L500.0 717.3L502.4 715.1L504.9 712.7L507.4 710.3L510.0 707.9L512.5 705.4L515.1 702.9L517.8 700.4L520.4 697.8L523.1 695.2L525.7 692.6L528.4 689.9L531.1 687.3L533.8 684.6L536.5 681.9L539.2 679.2L541.9 676.5L544.6 673.8L547.3 671.0L549.9 668.3L552.6 665.6L555.2 662.9L557.8 660.2L560.4 657.5L562.9 654.8L565.4 652.1L567.9 649.5L570.3 646.9L572.7 644.2L575.1 641.7L577.4 639.1L579.6 636.6L581.8 634.1L584.0 631.7L586.0 629.3L588.0 626.9L590.0 624.6L591.8 622.3L593.6 620.1L595.3 618.0L596.9 615.9L598.5 613.9L599.9 611.9L601.3 610.0L602.6 608.2L603.7 606.5L604.8 604.8L605.7 603.3L606.5 601.9L607.2 600.6L607.8 599.4L608.3 598.3L608.5 597.5L608.6 596.6L608.6 595.8L608.4 595.0L608.2 594.2L607.8 593.4L607.3 592.7L606.8 592.1L606.2 591.6L605.6 591.0L604.9 590.6L604.1 590.3L603.3 590.0L602.5 589.9L601.6 589.9L600.8 590.0L600.0 590.3L599.0 590.7L597.9 591.3L596.7 591.9L595.3 592.7L593.8 593.6L592.2 594.5L590.5 595.6L588.8 596.7L586.9 597.9L584.9 599.2L582.9 600.6L580.8 602.0L578.6 603.6L576.3 605.1L574.0 606.8L571.6 608.5L569.1 610.3L566.6 612.1L564.1 614.0L561.5 615.9L558.8 617.9L556.1 620.0L553.4 622.0L550.6 624.1L547.8 626.3L544.9 628.5L542.0 630.7L539.2 632.9L536.2 635.2L533.3 637.5L530.3 639.8L527.4 642.2L524.4 644.5L521.4 646.9L518.4 649.3L515.5 651.7L512.5 654.1L509.5 656.5L506.5 658.9L503.6 661.3L500.6 663.7L497.7 666.1L494.8 668.5L491.9 670.8L489.1 673.2L486.2 675.5L483.4 677.8L480.7 680.1L478.0 682.4L475.3 684.6L472.7 686.8L470.1 689.0L467.6 691.1L465.1 693.2L462.7 695.3L460.3 697.3L458.0 699.3L455.8 701.2L453.6 703.1L451.5 704.9L449.5 706.7L447.6 708.3L445.7 710.0L444.0 711.6L442.3 713.1L440.7 714.5L439.2 715.8L437.8 717.1L436.5 718.3L435.3 719.4L434.3 720.4L433.4 721.3L432.6 722.3L431.9 723.3L431.3 724.4L430.8 725.6L430.4 726.8L430.1 728.0L430.0 729.2L429.9 730.5L429.9 731.8L430.1 733.0L430.4 734.2L430.7 735.4L431.2 736.6L431.8 737.7L432.5 738.8L433.3 739.8L434.1 740.7Z" fill="#fff" stroke="none"/>
<path d="M422.6 752.7L420.7 750.7L419.0 748.5L417.5 746.2L416.2 743.8L415.1 741.3L414.2 738.7L413.6 736.0L413.2 733.3L413.1 730.5L413.2 727.7L413.6 725.0L414.2 722.3L415.0 719.7L416.1 717.1L417.4 714.7L418.9 712.4L420.6 710.2L422.5 708.2L423.6 707.1L424.9 705.9L426.3 704.6L427.7 703.3L429.2 701.9L430.9 700.4L432.6 698.8L434.4 697.2L436.3 695.6L438.3 693.8L440.3 692.0L442.4 690.2L444.6 688.3L446.8 686.3L449.2 684.3L451.5 682.3L454.0 680.2L456.5 678.1L459.0 675.9L461.6 673.7L464.3 671.5L467.0 669.2L469.7 666.9L472.5 664.6L475.3 662.3L478.1 659.9L481.0 657.6L483.9 655.2L486.8 652.8L489.7 650.4L492.7 647.9L495.7 645.5L498.7 643.1L501.6 640.7L504.6 638.2L507.7 635.8L510.7 633.4L513.7 631.0L516.7 628.6L519.6 626.3L522.6 623.9L525.6 621.6L528.5 619.3L531.4 617.0L534.3 614.8L537.2 612.6L540.1 610.4L542.9 608.2L545.6 606.1L548.4 604.1L551.1 602.0L553.7 600.0L556.3 598.1L558.9 596.2L561.4 594.4L563.9 592.7L566.3 590.9L568.6 589.3L570.9 587.7L573.1 586.2L575.2 584.7L577.3 583.4L579.3 582.0L581.2 580.8L583.1 579.6L584.9 578.6L586.6 577.5L588.3 576.6L589.8 575.8L591.4 575.0L592.8 574.3L595.9 573.1L599.2 572.4L602.5 572.1L605.8 572.2L609.1 572.9L612.3 574.0L615.3 575.5L618.1 577.4L620.5 579.8L622.5 582.5L624.2 585.4L625.4 588.6L626.1 591.8L626.4 595.2L626.2 598.5L625.6 601.8L624.5 604.9L623.8 606.7L622.9 608.5L622.0 610.3L620.9 612.2L619.8 614.1L618.5 616.1L617.2 618.1L615.8 620.2L614.3 622.3L612.8 624.4L611.1 626.7L609.4 628.9L607.6 631.2L605.7 633.6L603.8 636.0L601.8 638.4L599.7 640.9L597.6 643.4L595.4 646.0L593.2 648.5L590.9 651.1L588.6 653.8L586.2 656.4L583.8 659.1L581.3 661.8L578.8 664.6L576.2 667.3L573.7 670.0L571.1 672.8L568.4 675.6L565.8 678.3L563.1 681.1L560.5 683.9L557.8 686.7L555.0 689.5L552.3 692.2L549.6 695.0L546.9 697.7L544.1 700.4L541.4 703.1L538.7 705.8L536.0 708.4L533.3 711.0L530.6 713.6L528.0 716.2L525.4 718.7L522.8 721.2L520.2 723.7L517.6 726.1L515.1 728.5L512.7 730.8L510.2 733.1L507.8 735.3L505.5 737.5L503.2 739.6L501.0 741.7L498.8 743.7L496.7 745.6L494.6 747.5L492.6 749.3L490.7 751.0L488.8 752.6L487.0 754.2L485.3 755.7L483.7 757.1L482.1 758.5L480.7 759.7L479.3 760.9L478.0 761.9L476.8 762.9L475.6 763.8L473.2 765.5L470.6 767.0L467.9 768.1L465.1 769.1L462.3 769.7L459.4 770.1L456.4 770.1L453.5 769.9L450.6 769.4L447.8 768.6L445.0 767.6L442.4 766.3L439.9 764.7L437.6 762.9L435.5 760.9" fill="none" stroke="#000" stroke-width="1.60" stroke-linejoin="round" stroke-linecap="round"/>
<path d="M434.1 740.7L433.3 739.8L432.5 738.8L431.8 737.7L431.2 736.6L430.7 735.4L430.4 734.2L430.1 733.0L429.9 731.8L429.9 730.5L430.0 729.2L430.1 728.0L430.4 726.8L430.8 725.6L431.3 724.4L431.9 723.3L432.6 722.3L433.4 721.3L434.3 720.4L435.3 719.4L436.5 718.3L437.8 717.1L439.2 715.8L440.7 714.5L442.3 713.1L444.0 711.6L445.7 710.0L447.6 708.3L449.5 706.7L451.5 704.9L453.6 703.1L455.8 701.2L458.0 699.3L460.3 697.3L462.7 695.3L465.1 693.2L467.6 691.1L470.1 689.0L472.7 686.8L475.3 684.6L478.0 682.4L480.7 680.1L483.4 677.8L486.2 675.5L489.1 673.2L491.9 670.8L494.8 668.5L497.7 666.1L500.6 663.7L503.6 661.3L506.5 658.9L509.5 656.5L512.5 654.1L515.5 651.7L518.4 649.3L521.4 646.9L524.4 644.5L527.4 642.2L530.3 639.8L533.3 637.5L536.2 635.2L539.2 632.9L542.0 630.7L544.9 628.5L547.8 626.3L550.6 624.1L553.4 622.0L556.1 620.0L558.8 617.9L561.5 615.9L564.1 614.0L566.6 612.1L569.1 610.3L571.6 608.5L574.0 606.8L576.3 605.1L578.6 603.6L580.8 602.0L582.9 600.6L584.9 599.2L586.9 597.9L588.8 596.7L590.5 595.6L592.2 594.5L593.8 593.6L595.3 592.7L596.7 591.9L597.9 591.3L599.0 590.7L600.0 590.3L600.8 590.0L601.6 589.9L602.5 589.9L603.3 590.0L604.1 590.3L604.9 590.6L605.6 591.0L606.2 591.6L606.8 592.1L607.3 592.7L607.8 593.4L608.2 594.2L608.4 595.0L608.6 595.8L608.6 596.6L608.5 597.5L608.3 598.3L607.8 599.4L607.2 600.6L606.5 601.9L605.7 603.3L604.8 604.8L603.7 606.5L602.6 608.2L601.3 610.0L599.9 611.9L598.5 613.9L596.9 615.9L595.3 618.0L593.6 620.1L591.8 622.3L590.0 624.6L588.0 626.9L586.0 629.3L584.0 631.7L581.8 634.1L579.6 636.6L577.4 639.1L575.1 641.7L572.7 644.2L570.3 646.9L567.9 649.5L565.4 652.1L562.9 654.8L560.4 657.5L557.8 660.2L555.2 662.9L552.6 665.6L549.9 668.3L547.3 671.0L544.6 673.8L541.9 676.5L539.2 679.2L536.5 681.9L533.8 684.6L531.1 687.3L528.4 689.9L525.7 692.6L523.1 695.2L520.4 697.8L517.8 700.4L515.1 702.9L512.5 705.4L510.0 707.9L507.4 710.3L504.9 712.7L502.4 715.1L500.0 717.3L497.6 719.6L495.2 721.8L492.9 723.9L490.7 726.0L488.5 728.1L486.3 730.0L484.2 731.9L482.2 733.7L480.3 735.5L478.4 737.2L476.6 738.8L474.8 740.3L473.2 741.8L471.6 743.1L470.1 744.4L468.8 745.6L467.5 746.6L466.3 747.6L465.2 748.5L464.2 749.3L463.3 749.9L462.3 750.5L461.3 751.0L460.2 751.4L459.1 751.7L457.9 751.8L456.8 751.9L455.6 751.8L454.5 751.6L453.3 751.3L452.2 751.0L451.2 750.5L450.2 749.9L449.3 749.2L448.4 748.4" fill="none" stroke="#000" stroke-width="1.60" stroke-linejoin="round" stroke-linecap="round"/>
<path d="M435.5 760.9L433.7 758.6L432.0 756.2L430.6 753.7L429.5 751.0L428.7 748.3L428.1 745.5L427.8 742.6L427.7 739.8L428.0 736.9L428.5 734.1L429.3 731.4L430.3 728.8L431.6 726.3L433.2 723.9L434.7 721.7L436.4 719.5L438.2 717.3L440.1 715.1L442.1 712.9L444.1 710.7L446.3 708.5L448.5 706.3L450.8 704.1L453.1 701.9L455.5 699.7L458.0 697.5L460.5 695.3L463.1 693.2L465.7 691.0L468.3 688.9L470.9 686.7L473.6 684.6L476.3 682.5L478.9 680.4L481.6 678.3L484.3 676.3L486.9 674.2L489.6 672.2L492.2 670.3L494.8 668.3L497.3 666.4L499.8 664.5L502.2 662.6L504.6 660.8L507.0 659.0L509.2 657.3L511.4 655.6L513.5 654.0L515.5 652.4L524.9 664.0L522.8 665.7L520.7 667.4L518.4 669.2L516.2 671.0L513.8 672.8L511.4 674.6L508.9 676.5L506.4 678.4L503.9 680.4L501.3 682.3L498.8 684.3L496.2 686.3L493.5 688.3L490.9 690.3L488.3 692.4L485.7 694.4L483.1 696.5L480.5 698.6L478.0 700.7L475.4 702.8L473.0 704.8L470.5 706.9L468.1 709.0L465.8 711.1L463.5 713.2L461.4 715.2L459.2 717.3L457.2 719.3L455.3 721.3L453.5 723.3L451.7 725.2L450.1 727.1L448.6 729.0L447.3 730.8L446.0 732.6L445.4 733.7L444.9 734.9L444.6 736.1L444.4 737.4L444.3 738.6L444.3 739.9L444.4 741.1L444.7 742.3L445.0 743.5L445.5 744.6L446.1 745.7L446.8 746.7L447.5 747.6L448.4 748.4Z" fill="#fff" stroke="none"/>
<path d="M435.5 760.9L433.7 758.6L432.0 756.2L430.6 753.7L429.5 751.0L428.7 748.3L428.1 745.5L427.8 742.6L427.7 739.8L428.0 736.9L428.5 734.1L429.3 731.4L430.3 728.8L431.6 726.3L433.2 723.9L434.7 721.7L436.4 719.5L438.2 717.3L440.1 715.1L442.1 712.9L444.1 710.7L446.3 708.5L448.5 706.3L450.8 704.1L453.1 701.9L455.5 699.7L458.0 697.5L460.5 695.3L463.1 693.2L465.7 691.0L468.3 688.9L470.9 686.7L473.6 684.6L476.3 682.5L478.9 680.4L481.6 678.3L484.3 676.3L486.9 674.2L489.6 672.2L492.2 670.3L494.8 668.3L497.3 666.4L499.8 664.5L502.2 662.6L504.6 660.8L507.0 659.0L509.2 657.3L511.4 655.6L513.5 654.0L515.5 652.4Q518.1 651.8 522.2 656.6Q526.0 661.6 524.9 664.0L522.8 665.7L520.7 667.4L518.4 669.2L516.2 671.0L513.8 672.8L511.4 674.6L508.9 676.5L506.4 678.4L503.9 680.4L501.3 682.3L498.8 684.3L496.2 686.3L493.5 688.3L490.9 690.3L488.3 692.4L485.7 694.4L483.1 696.5L480.5 698.6L478.0 700.7L475.4 702.8L473.0 704.8L470.5 706.9L468.1 709.0L465.8 711.1L463.5 713.2L461.4 715.2L459.2 717.3L457.2 719.3L455.3 721.3L453.5 723.3L451.7 725.2L450.1 727.1L448.6 729.0L447.3 730.8L446.0 732.6L445.4 733.7L444.9 734.9L444.6 736.1L444.4 737.4L444.3 738.6L444.3 739.9L444.4 741.1L444.7 742.3L445.0 743.5L445.5 744.6L446.1 745.7L446.8 746.7L447.5 747.6L448.4 748.4Z" fill="#fff" stroke="none"/>
<path d="M435.5 760.9L433.7 758.6L432.0 756.2L430.6 753.7L429.5 751.0L428.7 748.3L428.1 745.5L427.8 742.6L427.7 739.8L428.0 736.9L428.5 734.1L429.3 731.4L430.3 728.8L431.6 726.3L433.2 723.9L434.7 721.7L436.4 719.5L438.2 717.3L440.1 715.1L442.1 712.9L444.1 710.7L446.3 708.5L448.5 706.3L450.8 704.1L453.1 701.9L455.5 699.7L458.0 697.5L460.5 695.3L463.1 693.2L465.7 691.0L468.3 688.9L470.9 686.7L473.6 684.6L476.3 682.5L478.9 680.4L481.6 678.3L484.3 676.3L486.9 674.2L489.6 672.2L492.2 670.3L494.8 668.3L497.3 666.4L499.8 664.5L502.2 662.6L504.6 660.8L507.0 659.0L509.2 657.3L511.4 655.6L513.5 654.0L515.5 652.4Q518.1 651.8 522.2 656.6Q526.0 661.6 524.9 664.0L522.8 665.7L520.7 667.4L518.4 669.2L516.2 671.0L513.8 672.8L511.4 674.6L508.9 676.5L506.4 678.4L503.9 680.4L501.3 682.3L498.8 684.3L496.2 686.3L493.5 688.3L490.9 690.3L488.3 692.4L485.7 694.4L483.1 696.5L480.5 698.6L478.0 700.7L475.4 702.8L473.0 704.8L470.5 706.9L468.1 709.0L465.8 711.1L463.5 713.2L461.4 715.2L459.2 717.3L457.2 719.3L455.3 721.3L453.5 723.3L451.7 725.2L450.1 727.1L448.6 729.0L447.3 730.8L446.0 732.6L445.4 733.7L444.9 734.9L444.6 736.1L444.4 737.4L444.3 738.6L444.3 739.9L444.4 741.1L444.7 742.3L445.0 743.5L445.5 744.6L446.1 745.7L446.8 746.7L447.5 747.6L448.4 748.4" fill="none" stroke="#000" stroke-width="1.60" stroke-linejoin="round" stroke-linecap="round"/>
<line x1="248.40" y1="296.50" x2="308.80" y2="353.20" stroke="#000" stroke-width="1.60" stroke-dasharray="3.2 2.1"/>
<line x1="73.90" y1="471.00" x2="124.00" y2="517.80" stroke="#000" stroke-width="1.60" stroke-dasharray="3.2 2.1"/>
<line x1="82.00" y1="532.50" x2="138.70" y2="477.60" stroke="#000" stroke-width="1.60" stroke-dasharray="3.2 2.1"/>
<line x1="449.90" y1="724.50" x2="381.00" y2="785.70" stroke="#000" stroke-width="1.60" stroke-dasharray="3.2 2.1"/>
<line x1="465.70" y1="690.00" x2="555.60" y2="691.50" stroke="#000" stroke-width="1.60" stroke-dasharray="3.2 2.1"/>
<line x1="457.00" y1="771.00" x2="555.60" y2="772.50" stroke="#000" stroke-width="1.60" stroke-dasharray="3.2 2.1"/>
<polygon points="81.20,468.40 89.55,466.32 83.36,460.07" fill="#000"/>
<polygon points="248.40,302.70 246.24,311.03 240.05,304.78" fill="#000"/>
<line x1="85.40" y1="464.23" x2="244.20" y2="306.87" stroke="#000" stroke-width="1.15"/>
<polygon points="85.60,534.30 88.41,542.44 94.09,535.71" fill="#000"/>
<polygon points="377.00,780.40 368.51,778.99 374.19,772.26" fill="#000"/>
<line x1="90.12" y1="538.12" x2="372.48" y2="776.58" stroke="#000" stroke-width="1.15"/>
<polygon points="552.00,695.90 547.60,703.30 556.40,703.30" fill="#000"/>
<polygon points="552.00,768.00 547.60,760.60 556.40,760.60" fill="#000"/>
<line x1="552.00" y1="701.82" x2="552.00" y2="762.08" stroke="#000" stroke-width="1.15"/>
<text x="116.50" y="383.50" font-size="18.00" textLength="28.5" lengthAdjust="spacingAndGlyphs">W.1</text>
<text x="205.20" y="680.50" font-size="18.00" textLength="18.7" lengthAdjust="spacingAndGlyphs">L.1</text>
<text x="562.30" y="738.10" font-size="18.00" textLength="23.3" lengthAdjust="spacingAndGlyphs">H.1</text>
<path d="M344.5 405.2H361M394.5 405.2H409" stroke="#d4d6d0" stroke-width="0.8" stroke-dasharray="1.2 1.4" fill="none"/>
<path d="M361.5 405.2H394" stroke="#d9dbd4" stroke-width="0.8" fill="none"/>
<path d="M0 0.5H16M47 0.5H64" stroke="#c9ccd2" stroke-width="1" stroke-dasharray="1.2 1.2" fill="none"/>
<path d="M16 0.5H47" stroke="#cfd2d6" stroke-width="1" fill="none"/>
</g>
</svg>
<h1>SDK0036</h1>
<table>
<colgroup><col style="width:140px"><col style="width:227px"><col style="width:91px"><col style="width:254px"></colgroup>
<tr><td class="h"><div>I.D.1</div></td><td class="v"><div>4.00 mm</div></td><td class="h"><div>H.1</div></td><td class="v"><div>11.50 mm</div></td></tr>
<tr><td class="h"><div>O.D.1</div></td><td class="v"><div>5.20 mm</div></td><td class="h"><div>&nbsp;</div></td><td class="v"><div>&nbsp;</div></td></tr>
</table>
</body>
</html>
